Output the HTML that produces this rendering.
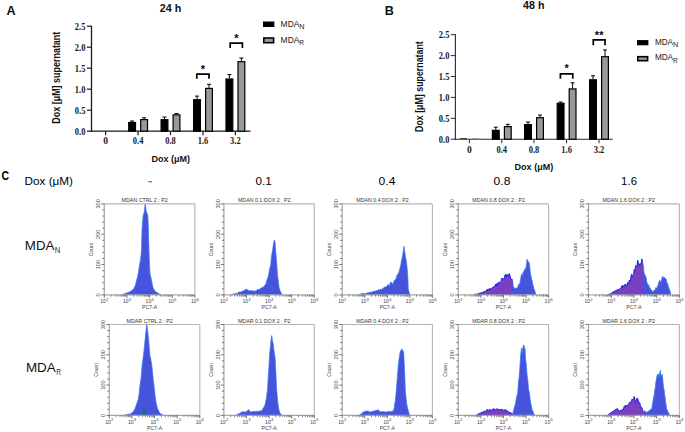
<!DOCTYPE html>
<html><head><meta charset="utf-8"><style>
html,body{margin:0;padding:0;background:#fff;}
svg{display:block;}
text{font-family:"Liberation Sans",sans-serif;}
</style></head><body>
<svg width="685" height="432" viewBox="0 0 685 432">
<rect width="685" height="432" fill="#fff"/>
<line x1="91.5" y1="25.7" x2="91.5" y2="131.7" stroke="#1a1a1a" stroke-width="1.3"/>
<line x1="90.9" y1="131.2" x2="250.5" y2="131.2" stroke="#1a1a1a" stroke-width="1.3"/>
<line x1="86.9" y1="131.2" x2="91.5" y2="131.2" stroke="#1a1a1a" stroke-width="1.2"/>
<text x="85.4" y="134.7" font-size="9.4" font-weight="bold" fill="#1a1a1a" text-anchor="end" textLength="10.6" lengthAdjust="spacingAndGlyphs" style="font-family:'Liberation Serif',serif">0.0</text>
<line x1="86.9" y1="110.2" x2="91.5" y2="110.2" stroke="#1a1a1a" stroke-width="1.2"/>
<text x="85.4" y="113.7" font-size="9.4" font-weight="bold" fill="#1a1a1a" text-anchor="end" textLength="10.6" lengthAdjust="spacingAndGlyphs" style="font-family:'Liberation Serif',serif">0.5</text>
<line x1="86.9" y1="89.2" x2="91.5" y2="89.2" stroke="#1a1a1a" stroke-width="1.2"/>
<text x="85.4" y="92.7" font-size="9.4" font-weight="bold" fill="#1a1a1a" text-anchor="end" textLength="10.6" lengthAdjust="spacingAndGlyphs" style="font-family:'Liberation Serif',serif">1.0</text>
<line x1="86.9" y1="68.2" x2="91.5" y2="68.2" stroke="#1a1a1a" stroke-width="1.2"/>
<text x="85.4" y="71.7" font-size="9.4" font-weight="bold" fill="#1a1a1a" text-anchor="end" textLength="10.6" lengthAdjust="spacingAndGlyphs" style="font-family:'Liberation Serif',serif">1.5</text>
<line x1="86.9" y1="47.2" x2="91.5" y2="47.2" stroke="#1a1a1a" stroke-width="1.2"/>
<text x="85.4" y="50.7" font-size="9.4" font-weight="bold" fill="#1a1a1a" text-anchor="end" textLength="10.6" lengthAdjust="spacingAndGlyphs" style="font-family:'Liberation Serif',serif">2.0</text>
<line x1="86.9" y1="26.2" x2="91.5" y2="26.2" stroke="#1a1a1a" stroke-width="1.2"/>
<text x="85.4" y="29.7" font-size="9.4" font-weight="bold" fill="#1a1a1a" text-anchor="end" textLength="10.6" lengthAdjust="spacingAndGlyphs" style="font-family:'Liberation Serif',serif">2.5</text>
<line x1="105.6" y1="131.2" x2="105.6" y2="135.2" stroke="#1a1a1a" stroke-width="1.2"/>
<text x="105.6" y="144.4" font-size="9.4" font-weight="bold" fill="#1a1a1a" text-anchor="middle" textLength="4.8" lengthAdjust="spacingAndGlyphs" style="font-family:'Liberation Serif',serif">0</text>
<line x1="138.1" y1="131.2" x2="138.1" y2="135.2" stroke="#1a1a1a" stroke-width="1.2"/>
<text x="138.1" y="144.4" font-size="9.4" font-weight="bold" fill="#1a1a1a" text-anchor="middle" textLength="10.6" lengthAdjust="spacingAndGlyphs" style="font-family:'Liberation Serif',serif">0.4</text>
<line x1="170.5" y1="131.2" x2="170.5" y2="135.2" stroke="#1a1a1a" stroke-width="1.2"/>
<text x="170.5" y="144.4" font-size="9.4" font-weight="bold" fill="#1a1a1a" text-anchor="middle" textLength="10.6" lengthAdjust="spacingAndGlyphs" style="font-family:'Liberation Serif',serif">0.8</text>
<line x1="203" y1="131.2" x2="203" y2="135.2" stroke="#1a1a1a" stroke-width="1.2"/>
<text x="203" y="144.4" font-size="9.4" font-weight="bold" fill="#1a1a1a" text-anchor="middle" textLength="10.6" lengthAdjust="spacingAndGlyphs" style="font-family:'Liberation Serif',serif">1.6</text>
<line x1="235.4" y1="131.2" x2="235.4" y2="135.2" stroke="#1a1a1a" stroke-width="1.2"/>
<text x="235.4" y="144.4" font-size="9.4" font-weight="bold" fill="#1a1a1a" text-anchor="middle" textLength="10.6" lengthAdjust="spacingAndGlyphs" style="font-family:'Liberation Serif',serif">3.2</text>
<line x1="132.1" y1="121" x2="132.1" y2="121.9" stroke="#000" stroke-width="1"/>
<line x1="130.1" y1="121" x2="134.1" y2="121" stroke="#000" stroke-width="1"/>
<rect x="128.7" y="122.5" width="6.8" height="8.699999999999983" fill="#000" stroke="#000" stroke-width="1.2"/>
<line x1="144.1" y1="117.8" x2="144.1" y2="119" stroke="#000" stroke-width="1"/>
<line x1="142.1" y1="117.8" x2="146.1" y2="117.8" stroke="#000" stroke-width="1"/>
<rect x="140.7" y="119.6" width="6.8" height="11.599999999999989" fill="#999" stroke="#000" stroke-width="1.2"/>
<line x1="164.5" y1="117" x2="164.5" y2="119.1" stroke="#000" stroke-width="1"/>
<line x1="162.5" y1="117" x2="166.5" y2="117" stroke="#000" stroke-width="1"/>
<rect x="161.1" y="119.69999999999999" width="6.8" height="11.499999999999995" fill="#000" stroke="#000" stroke-width="1.2"/>
<line x1="176.5" y1="113.5" x2="176.5" y2="114.3" stroke="#000" stroke-width="1"/>
<line x1="174.5" y1="113.5" x2="178.5" y2="113.5" stroke="#000" stroke-width="1"/>
<rect x="173.1" y="114.89999999999999" width="6.8" height="16.29999999999999" fill="#999" stroke="#000" stroke-width="1.2"/>
<line x1="197" y1="96.1" x2="197" y2="99.1" stroke="#000" stroke-width="1"/>
<line x1="195" y1="96.1" x2="199" y2="96.1" stroke="#000" stroke-width="1"/>
<rect x="193.6" y="99.69999999999999" width="6.8" height="31.499999999999993" fill="#000" stroke="#000" stroke-width="1.2"/>
<line x1="209" y1="84.3" x2="209" y2="87.8" stroke="#000" stroke-width="1"/>
<line x1="207" y1="84.3" x2="211" y2="84.3" stroke="#000" stroke-width="1"/>
<rect x="205.6" y="88.39999999999999" width="6.8" height="42.79999999999999" fill="#999" stroke="#000" stroke-width="1.2"/>
<line x1="229.4" y1="74.6" x2="229.4" y2="78.4" stroke="#000" stroke-width="1"/>
<line x1="227.4" y1="74.6" x2="231.4" y2="74.6" stroke="#000" stroke-width="1"/>
<rect x="226.0" y="79.0" width="6.8" height="52.19999999999998" fill="#000" stroke="#000" stroke-width="1.2"/>
<line x1="241.4" y1="58" x2="241.4" y2="61.1" stroke="#000" stroke-width="1"/>
<line x1="239.4" y1="58" x2="243.4" y2="58" stroke="#000" stroke-width="1"/>
<rect x="238.0" y="61.7" width="6.8" height="69.5" fill="#999" stroke="#000" stroke-width="1.2"/>
<path d="M196.8 78.8 V74.2 H209.0 V78.8" fill="none" stroke="#000" stroke-width="1.7"/>
<text x="202.9" y="72.6" font-size="11" font-weight="bold" fill="#000" text-anchor="middle" >*</text>
<path d="M230.2 48.0 V43.2 H242.4 V48.0" fill="none" stroke="#000" stroke-width="1.7"/>
<text x="236.3" y="41.8" font-size="11" font-weight="bold" fill="#000" text-anchor="middle" >*</text>
<text x="159.8" y="11.8" font-size="10.6" font-weight="bold" fill="#111" text-anchor="start" textLength="21.5" lengthAdjust="spacingAndGlyphs" >24 h</text>
<text x="6.6" y="14.8" font-size="12.6" font-weight="bold" fill="#111" text-anchor="start" >A</text>
<text x="151.4" y="161.6" font-size="8.6" font-weight="bold" fill="#111" text-anchor="start" textLength="38.5" lengthAdjust="spacingAndGlyphs" >Dox (μM)</text>
<text transform="translate(59.5,77.7) rotate(-90)" x="0" y="0" font-size="10.3" font-weight="bold" fill="#111" text-anchor="middle" textLength="92.0" lengthAdjust="spacingAndGlyphs">Dox [μM] supernatant</text>
<rect x="263.6" y="22.1" width="10.2" height="4.3" fill="#000" stroke="#000" stroke-width="1.2"/>
<rect x="263.8" y="38.0" width="9.8" height="4.699999999999999" fill="#999" stroke="#000" stroke-width="1.6"/>
<text x="280.6" y="26.7" font-size="8.2" font-weight="normal" fill="#222" text-anchor="start" textLength="18.8" lengthAdjust="spacingAndGlyphs" >MDA</text>
<text x="299.3" y="28.8" font-size="7.0" font-weight="normal" fill="#222" text-anchor="start" textLength="5.2" lengthAdjust="spacingAndGlyphs" >N</text>
<text x="280.6" y="43" font-size="8.2" font-weight="normal" fill="#222" text-anchor="start" textLength="18.8" lengthAdjust="spacingAndGlyphs" >MDA</text>
<text x="299.3" y="45.3" font-size="7.0" font-weight="normal" fill="#222" text-anchor="start" textLength="4.8" lengthAdjust="spacingAndGlyphs" >R</text>
<line x1="455.4" y1="34.2" x2="455.4" y2="139.7" stroke="#2a2a2a" stroke-width="1.1"/>
<line x1="454.8" y1="139.2" x2="612.8" y2="139.2" stroke="#2a2a2a" stroke-width="1.1"/>
<line x1="450.8" y1="139.2" x2="455.4" y2="139.2" stroke="#2a2a2a" stroke-width="1.01"/>
<text x="449.4" y="142.5" font-size="9.4" font-weight="bold" fill="#1a1a1a" text-anchor="end" textLength="10.6" lengthAdjust="spacingAndGlyphs" style="font-family:'Liberation Serif',serif">0.0</text>
<line x1="450.8" y1="118.3" x2="455.4" y2="118.3" stroke="#2a2a2a" stroke-width="1.01"/>
<text x="449.4" y="121.6" font-size="9.4" font-weight="bold" fill="#1a1a1a" text-anchor="end" textLength="10.6" lengthAdjust="spacingAndGlyphs" style="font-family:'Liberation Serif',serif">0.5</text>
<line x1="450.8" y1="97.4" x2="455.4" y2="97.4" stroke="#2a2a2a" stroke-width="1.01"/>
<text x="449.4" y="100.7" font-size="9.4" font-weight="bold" fill="#1a1a1a" text-anchor="end" textLength="10.6" lengthAdjust="spacingAndGlyphs" style="font-family:'Liberation Serif',serif">1.0</text>
<line x1="450.8" y1="76.5" x2="455.4" y2="76.5" stroke="#2a2a2a" stroke-width="1.01"/>
<text x="449.4" y="79.8" font-size="9.4" font-weight="bold" fill="#1a1a1a" text-anchor="end" textLength="10.6" lengthAdjust="spacingAndGlyphs" style="font-family:'Liberation Serif',serif">1.5</text>
<line x1="450.8" y1="55.6" x2="455.4" y2="55.6" stroke="#2a2a2a" stroke-width="1.01"/>
<text x="449.4" y="58.9" font-size="9.4" font-weight="bold" fill="#1a1a1a" text-anchor="end" textLength="10.6" lengthAdjust="spacingAndGlyphs" style="font-family:'Liberation Serif',serif">2.0</text>
<line x1="450.8" y1="34.7" x2="455.4" y2="34.7" stroke="#2a2a2a" stroke-width="1.01"/>
<text x="449.4" y="38" font-size="9.4" font-weight="bold" fill="#1a1a1a" text-anchor="end" textLength="10.6" lengthAdjust="spacingAndGlyphs" style="font-family:'Liberation Serif',serif">2.5</text>
<line x1="469.4" y1="139.2" x2="469.4" y2="143.2" stroke="#2a2a2a" stroke-width="1.01"/>
<text x="469.4" y="152.5" font-size="9.4" font-weight="bold" fill="#1a1a1a" text-anchor="middle" textLength="4.8" lengthAdjust="spacingAndGlyphs" style="font-family:'Liberation Serif',serif">0</text>
<line x1="501.8" y1="139.2" x2="501.8" y2="143.2" stroke="#2a2a2a" stroke-width="1.01"/>
<text x="501.8" y="152.5" font-size="9.4" font-weight="bold" fill="#1a1a1a" text-anchor="middle" textLength="10.6" lengthAdjust="spacingAndGlyphs" style="font-family:'Liberation Serif',serif">0.4</text>
<line x1="534" y1="139.2" x2="534" y2="143.2" stroke="#2a2a2a" stroke-width="1.01"/>
<text x="534" y="152.5" font-size="9.4" font-weight="bold" fill="#1a1a1a" text-anchor="middle" textLength="10.6" lengthAdjust="spacingAndGlyphs" style="font-family:'Liberation Serif',serif">0.8</text>
<line x1="566.6" y1="139.2" x2="566.6" y2="143.2" stroke="#2a2a2a" stroke-width="1.01"/>
<text x="566.6" y="152.5" font-size="9.4" font-weight="bold" fill="#1a1a1a" text-anchor="middle" textLength="10.6" lengthAdjust="spacingAndGlyphs" style="font-family:'Liberation Serif',serif">1.6</text>
<line x1="599" y1="139.2" x2="599" y2="143.2" stroke="#2a2a2a" stroke-width="1.01"/>
<text x="599" y="152.5" font-size="9.4" font-weight="bold" fill="#1a1a1a" text-anchor="middle" textLength="10.6" lengthAdjust="spacingAndGlyphs" style="font-family:'Liberation Serif',serif">3.2</text>
<rect x="459.9" y="138.0" width="7" height="1.2" fill="#444"/>
<rect x="471.9" y="138.0" width="7" height="1.2" fill="#999"/>
<line x1="495.8" y1="127.2" x2="495.8" y2="129.7" stroke="#000" stroke-width="1"/>
<line x1="493.8" y1="127.2" x2="497.8" y2="127.2" stroke="#000" stroke-width="1"/>
<rect x="492.40000000000003" y="130.29999999999998" width="6.8" height="8.9" fill="#000" stroke="#000" stroke-width="1.2"/>
<line x1="507.8" y1="124.3" x2="507.8" y2="126" stroke="#000" stroke-width="1"/>
<line x1="505.8" y1="124.3" x2="509.8" y2="124.3" stroke="#000" stroke-width="1"/>
<rect x="504.40000000000003" y="126.6" width="6.8" height="12.599999999999989" fill="#999" stroke="#000" stroke-width="1.2"/>
<line x1="528" y1="122" x2="528" y2="124" stroke="#000" stroke-width="1"/>
<line x1="526" y1="122" x2="530" y2="122" stroke="#000" stroke-width="1"/>
<rect x="524.6" y="124.6" width="6.8" height="14.599999999999989" fill="#000" stroke="#000" stroke-width="1.2"/>
<line x1="540" y1="115.1" x2="540" y2="117.1" stroke="#000" stroke-width="1"/>
<line x1="538" y1="115.1" x2="542" y2="115.1" stroke="#000" stroke-width="1"/>
<rect x="536.6" y="117.69999999999999" width="6.8" height="21.499999999999993" fill="#999" stroke="#000" stroke-width="1.2"/>
<line x1="560.6" y1="102" x2="560.6" y2="102.7" stroke="#000" stroke-width="1"/>
<line x1="558.6" y1="102" x2="562.6" y2="102" stroke="#000" stroke-width="1"/>
<rect x="557.2" y="103.3" width="6.8" height="35.899999999999984" fill="#000" stroke="#000" stroke-width="1.2"/>
<line x1="572.6" y1="82.8" x2="572.6" y2="88.3" stroke="#000" stroke-width="1"/>
<line x1="570.6" y1="82.8" x2="574.6" y2="82.8" stroke="#000" stroke-width="1"/>
<rect x="569.2" y="88.89999999999999" width="6.8" height="50.29999999999999" fill="#999" stroke="#000" stroke-width="1.2"/>
<line x1="593" y1="75.8" x2="593" y2="79.2" stroke="#000" stroke-width="1"/>
<line x1="591" y1="75.8" x2="595" y2="75.8" stroke="#000" stroke-width="1"/>
<rect x="589.6" y="79.8" width="6.8" height="59.399999999999984" fill="#000" stroke="#000" stroke-width="1.2"/>
<line x1="605" y1="50" x2="605" y2="56.1" stroke="#000" stroke-width="1"/>
<line x1="603" y1="50" x2="607" y2="50" stroke="#000" stroke-width="1"/>
<rect x="601.6" y="56.7" width="6.8" height="82.5" fill="#999" stroke="#000" stroke-width="1.2"/>
<path d="M560.4 78.8 V73.9 H572.8 V78.8" fill="none" stroke="#000" stroke-width="1.7"/>
<text x="566.6" y="72.4" font-size="11" font-weight="bold" fill="#000" text-anchor="middle" >*</text>
<path d="M593.3 45.2 V39.8 H605.0 V45.2" fill="none" stroke="#000" stroke-width="1.7"/>
<text x="599.15" y="39.3" font-size="11" font-weight="bold" fill="#000" text-anchor="middle" >**</text>
<text x="523.1" y="9.2" font-size="10.6" font-weight="bold" fill="#111" text-anchor="start" textLength="21.5" lengthAdjust="spacingAndGlyphs" >48 h</text>
<text x="384.7" y="14.6" font-size="12.6" font-weight="bold" fill="#111" text-anchor="start" >B</text>
<text x="514.6" y="169.5" font-size="8.6" font-weight="bold" fill="#111" text-anchor="start" textLength="38.6" lengthAdjust="spacingAndGlyphs" >Dox (μM)</text>
<text transform="translate(423.1,86.6) rotate(-90)" x="0" y="0" font-size="10.3" font-weight="bold" fill="#111" text-anchor="middle" textLength="90.8" lengthAdjust="spacingAndGlyphs">Dox [μM] supernatant</text>
<rect x="637.6" y="40.7" width="10.2" height="4.0" fill="#000" stroke="#000" stroke-width="1.2"/>
<rect x="637.8" y="56.699999999999996" width="9.8" height="3.9999999999999996" fill="#999" stroke="#000" stroke-width="1.6"/>
<text x="654.9" y="44.8" font-size="8.2" font-weight="normal" fill="#222" text-anchor="start" textLength="18.2" lengthAdjust="spacingAndGlyphs" >MDA</text>
<text x="673" y="46.9" font-size="7.0" font-weight="normal" fill="#222" text-anchor="start" textLength="5.2" lengthAdjust="spacingAndGlyphs" >N</text>
<text x="654.9" y="60.4" font-size="8.2" font-weight="normal" fill="#222" text-anchor="start" textLength="18.2" lengthAdjust="spacingAndGlyphs" >MDA</text>
<text x="673" y="62.7" font-size="7.0" font-weight="normal" fill="#222" text-anchor="start" textLength="4.8" lengthAdjust="spacingAndGlyphs" >R</text>
<text x="1.6" y="180.1" font-size="13.6" font-weight="bold" fill="#000" text-anchor="start" textLength="7.6" lengthAdjust="spacingAndGlyphs" >C</text>
<text x="24.5" y="184.9" font-size="11.6" font-weight="normal" fill="#000" text-anchor="start" textLength="48.5" lengthAdjust="spacingAndGlyphs" >Dox (μM)</text>
<rect x="148.4" y="181.0" width="3.5" height="1.4" fill="#777"/>
<text x="255.4" y="184.8" font-size="11.8" font-weight="normal" fill="#000" text-anchor="start" textLength="16.3" lengthAdjust="spacingAndGlyphs" >0.1</text>
<text x="378.6" y="184.8" font-size="11.8" font-weight="normal" fill="#000" text-anchor="start" textLength="16.8" lengthAdjust="spacingAndGlyphs" >0.4</text>
<text x="493.6" y="184.8" font-size="11.8" font-weight="normal" fill="#000" text-anchor="start" textLength="16.8" lengthAdjust="spacingAndGlyphs" >0.8</text>
<text x="621.1" y="184.8" font-size="11.8" font-weight="normal" fill="#000" text-anchor="start" textLength="15.9" lengthAdjust="spacingAndGlyphs" >1.6</text>
<text x="24.8" y="250.1" font-size="12.8" font-weight="normal" fill="#111" text-anchor="start" textLength="29.6" lengthAdjust="spacingAndGlyphs" >MDA</text>
<text x="54.8" y="253.2" font-size="8.4" font-weight="normal" fill="#333" text-anchor="start" textLength="5.6" lengthAdjust="spacingAndGlyphs" >N</text>
<text x="25.9" y="372.1" font-size="12.8" font-weight="normal" fill="#111" text-anchor="start" textLength="29.8" lengthAdjust="spacingAndGlyphs" >MDA</text>
<text x="56.2" y="375.2" font-size="8.4" font-weight="normal" fill="#333" text-anchor="start" textLength="4.8" lengthAdjust="spacingAndGlyphs" >R</text>
<clipPath id="c104_203"><rect x="104.3" y="201.9" width="90.60000000000001" height="92.99999999999997"/></clipPath>
<path d="M122.0 294.9 L122.0 294.5 L122.2 294.5 L122.6 294.4 L123.1 294.1 L123.6 294.1 L124.3 293.7 L124.9 293.6 L125.6 293.5 L126.3 293.0 L127.0 293.1 L127.6 292.6 L128.1 292.6 L128.6 292.5 L128.9 292.1 L129.3 291.7 L129.8 291.9 L130.4 291.5 L131.0 290.9 L131.7 290.2 L132.3 290.1 L132.8 289.9 L133.2 289.1 L133.5 289.6 L134.1 287.8 L134.7 286.8 L135.3 285.2 L135.8 283.9 L136.2 282.2 L136.8 279.3 L137.4 277.6 L137.9 274.7 L138.3 272.9 L138.8 269.9 L139.5 265.0 L140.0 262.5 L140.5 259.3 L141.1 254.5 L141.5 249.6 L142.0 229.1 L142.5 222.6 L143.1 215.9 L143.7 213.6 L144.3 211.7 L145.2 203.0 L145.7 206.4 L146.2 211.8 L146.7 212.2 L147.3 214.3 L147.8 215.0 L148.4 228.2 L149.0 250.5 L149.3 260.6 L150.0 273.7 L150.4 275.3 L151.0 277.6 L151.6 281.1 L152.0 282.4 L152.6 286.0 L153.2 288.0 L153.6 288.8 L154.2 289.9 L154.9 290.7 L155.5 291.7 L155.8 291.7 L156.3 292.1 L156.9 292.5 L157.5 293.0 L158.2 293.2 L158.8 293.6 L159.3 294.1 L159.8 294.3 L160.0 294.5 L160.0 294.9 Z" fill="#4753dc" stroke="#2f7cf5" stroke-width="0.7" clip-path="url(#c104_203)"/>
<line x1="104.3" y1="203.9" x2="194.9" y2="203.9" stroke="#b4b4b4" stroke-width="1.1"/>
<line x1="194.9" y1="203.9" x2="194.9" y2="294.9" stroke="#b4b4b4" stroke-width="1.1"/>
<line x1="104.3" y1="203.4" x2="104.3" y2="295.4" stroke="#a8a8a8" stroke-width="1.2"/>
<line x1="104.3" y1="294.9" x2="194.9" y2="294.9" stroke="#a8a8a8" stroke-width="1.2"/>
<line x1="101.3" y1="294.9" x2="104.3" y2="294.9" stroke="#555" stroke-width="0.8"/>
<line x1="102.3" y1="288.83" x2="104.3" y2="288.83" stroke="#555" stroke-width="0.8"/>
<line x1="102.3" y1="282.77" x2="104.3" y2="282.77" stroke="#555" stroke-width="0.8"/>
<line x1="102.3" y1="276.7" x2="104.3" y2="276.7" stroke="#555" stroke-width="0.8"/>
<line x1="102.3" y1="270.63" x2="104.3" y2="270.63" stroke="#555" stroke-width="0.8"/>
<line x1="101.3" y1="264.57" x2="104.3" y2="264.57" stroke="#555" stroke-width="0.8"/>
<line x1="102.3" y1="258.5" x2="104.3" y2="258.5" stroke="#555" stroke-width="0.8"/>
<line x1="102.3" y1="252.43" x2="104.3" y2="252.43" stroke="#555" stroke-width="0.8"/>
<line x1="102.3" y1="246.37" x2="104.3" y2="246.37" stroke="#555" stroke-width="0.8"/>
<line x1="102.3" y1="240.3" x2="104.3" y2="240.3" stroke="#555" stroke-width="0.8"/>
<line x1="101.3" y1="234.23" x2="104.3" y2="234.23" stroke="#555" stroke-width="0.8"/>
<line x1="102.3" y1="228.17" x2="104.3" y2="228.17" stroke="#555" stroke-width="0.8"/>
<line x1="102.3" y1="222.1" x2="104.3" y2="222.1" stroke="#555" stroke-width="0.8"/>
<line x1="102.3" y1="216.03" x2="104.3" y2="216.03" stroke="#555" stroke-width="0.8"/>
<line x1="102.3" y1="209.97" x2="104.3" y2="209.97" stroke="#555" stroke-width="0.8"/>
<line x1="101.3" y1="203.9" x2="104.3" y2="203.9" stroke="#555" stroke-width="0.8"/>
<text transform="translate(100.10,294.90) rotate(-90)" font-size="5.6" fill="#444" text-anchor="middle" font-family="Liberation Sans">0</text>
<text transform="translate(100.10,264.57) rotate(-90)" font-size="5.6" fill="#444" text-anchor="middle" font-family="Liberation Sans">100</text>
<text transform="translate(100.10,234.23) rotate(-90)" font-size="5.6" fill="#444" text-anchor="middle" font-family="Liberation Sans">200</text>
<text transform="translate(100.10,203.90) rotate(-90)" font-size="5.6" fill="#444" text-anchor="middle" font-family="Liberation Sans">300</text>
<text transform="translate(92.90,249.40) rotate(-90)" font-size="5.6" fill="#444" text-anchor="middle" textLength="13.7" lengthAdjust="spacingAndGlyphs">Count</text>
<line x1="111.12" y1="294.9" x2="111.12" y2="296.7" stroke="#555" stroke-width="0.7"/>
<line x1="115.11" y1="294.9" x2="115.11" y2="296.7" stroke="#555" stroke-width="0.7"/>
<line x1="117.94" y1="294.9" x2="117.94" y2="296.7" stroke="#555" stroke-width="0.7"/>
<line x1="120.13" y1="294.9" x2="120.13" y2="296.7" stroke="#555" stroke-width="0.7"/>
<line x1="121.93" y1="294.9" x2="121.93" y2="296.7" stroke="#555" stroke-width="0.7"/>
<line x1="123.44" y1="294.9" x2="123.44" y2="296.7" stroke="#555" stroke-width="0.7"/>
<line x1="124.75" y1="294.9" x2="124.75" y2="296.7" stroke="#555" stroke-width="0.7"/>
<line x1="125.91" y1="294.9" x2="125.91" y2="296.7" stroke="#555" stroke-width="0.7"/>
<line x1="133.77" y1="294.9" x2="133.77" y2="296.7" stroke="#555" stroke-width="0.7"/>
<line x1="137.76" y1="294.9" x2="137.76" y2="296.7" stroke="#555" stroke-width="0.7"/>
<line x1="140.59" y1="294.9" x2="140.59" y2="296.7" stroke="#555" stroke-width="0.7"/>
<line x1="142.78" y1="294.9" x2="142.78" y2="296.7" stroke="#555" stroke-width="0.7"/>
<line x1="144.58" y1="294.9" x2="144.58" y2="296.7" stroke="#555" stroke-width="0.7"/>
<line x1="146.09" y1="294.9" x2="146.09" y2="296.7" stroke="#555" stroke-width="0.7"/>
<line x1="147.4" y1="294.9" x2="147.4" y2="296.7" stroke="#555" stroke-width="0.7"/>
<line x1="148.56" y1="294.9" x2="148.56" y2="296.7" stroke="#555" stroke-width="0.7"/>
<line x1="156.42" y1="294.9" x2="156.42" y2="296.7" stroke="#555" stroke-width="0.7"/>
<line x1="160.41" y1="294.9" x2="160.41" y2="296.7" stroke="#555" stroke-width="0.7"/>
<line x1="163.24" y1="294.9" x2="163.24" y2="296.7" stroke="#555" stroke-width="0.7"/>
<line x1="165.43" y1="294.9" x2="165.43" y2="296.7" stroke="#555" stroke-width="0.7"/>
<line x1="167.23" y1="294.9" x2="167.23" y2="296.7" stroke="#555" stroke-width="0.7"/>
<line x1="168.74" y1="294.9" x2="168.74" y2="296.7" stroke="#555" stroke-width="0.7"/>
<line x1="170.05" y1="294.9" x2="170.05" y2="296.7" stroke="#555" stroke-width="0.7"/>
<line x1="171.21" y1="294.9" x2="171.21" y2="296.7" stroke="#555" stroke-width="0.7"/>
<line x1="179.07" y1="294.9" x2="179.07" y2="296.7" stroke="#555" stroke-width="0.7"/>
<line x1="183.06" y1="294.9" x2="183.06" y2="296.7" stroke="#555" stroke-width="0.7"/>
<line x1="185.89" y1="294.9" x2="185.89" y2="296.7" stroke="#555" stroke-width="0.7"/>
<line x1="188.08" y1="294.9" x2="188.08" y2="296.7" stroke="#555" stroke-width="0.7"/>
<line x1="189.88" y1="294.9" x2="189.88" y2="296.7" stroke="#555" stroke-width="0.7"/>
<line x1="191.39" y1="294.9" x2="191.39" y2="296.7" stroke="#555" stroke-width="0.7"/>
<line x1="192.7" y1="294.9" x2="192.7" y2="296.7" stroke="#555" stroke-width="0.7"/>
<line x1="193.86" y1="294.9" x2="193.86" y2="296.7" stroke="#555" stroke-width="0.7"/>
<line x1="104.3" y1="294.9" x2="104.3" y2="297.9" stroke="#555" stroke-width="0.8"/>
<text x="100.3" y="303.2" font-size="5.8" font-weight="normal" fill="#444" text-anchor="start" textLength="5.6" lengthAdjust="spacingAndGlyphs" >10</text>
<text x="106.1" y="300.5" font-size="4.2" font-weight="normal" fill="#444" text-anchor="start" >2</text>
<line x1="126.95" y1="294.9" x2="126.95" y2="297.9" stroke="#555" stroke-width="0.8"/>
<text x="122.95" y="303.2" font-size="5.8" font-weight="normal" fill="#444" text-anchor="start" textLength="5.6" lengthAdjust="spacingAndGlyphs" >10</text>
<text x="128.75" y="300.5" font-size="4.2" font-weight="normal" fill="#444" text-anchor="start" >3</text>
<line x1="149.6" y1="294.9" x2="149.6" y2="297.9" stroke="#555" stroke-width="0.8"/>
<text x="145.6" y="303.2" font-size="5.8" font-weight="normal" fill="#444" text-anchor="start" textLength="5.6" lengthAdjust="spacingAndGlyphs" >10</text>
<text x="151.4" y="300.5" font-size="4.2" font-weight="normal" fill="#444" text-anchor="start" >4</text>
<line x1="172.25" y1="294.9" x2="172.25" y2="297.9" stroke="#555" stroke-width="0.8"/>
<text x="168.25" y="303.2" font-size="5.8" font-weight="normal" fill="#444" text-anchor="start" textLength="5.6" lengthAdjust="spacingAndGlyphs" >10</text>
<text x="174.05" y="300.5" font-size="4.2" font-weight="normal" fill="#444" text-anchor="start" >5</text>
<line x1="194.9" y1="294.9" x2="194.9" y2="297.9" stroke="#555" stroke-width="0.8"/>
<text x="190.9" y="303.2" font-size="5.8" font-weight="normal" fill="#444" text-anchor="start" textLength="5.6" lengthAdjust="spacingAndGlyphs" >10</text>
<text x="196.7" y="300.5" font-size="4.2" font-weight="normal" fill="#444" text-anchor="start" >6</text>
<text x="149.6" y="309.4" font-size="5.6" font-weight="normal" fill="#444" text-anchor="middle" textLength="15.3" lengthAdjust="spacingAndGlyphs" >PC7-A</text>
<text x="144.6" y="202.4" font-size="5.6" font-weight="normal" fill="#333" text-anchor="middle" textLength="46.2" lengthAdjust="spacingAndGlyphs" >MDAN CTRL 2 : P2</text>
<clipPath id="c109_324"><rect x="109.3" y="322.5" width="90.50000000000001" height="92.89999999999998"/></clipPath>
<path d="M125.0 415.4 L125.0 414.9 L125.3 414.9 L125.8 414.7 L126.4 414.6 L127.0 414.4 L127.6 414.3 L128.0 414.4 L128.4 414.3 L128.9 414.1 L129.5 414.2 L130.1 413.8 L130.6 413.8 L131.0 413.7 L131.4 413.4 L131.9 412.6 L132.5 412.3 L133.1 411.7 L133.7 411.0 L134.0 410.3 L134.5 409.9 L135.1 408.2 L135.7 406.6 L136.2 405.1 L136.7 403.7 L137.4 401.5 L138.1 399.9 L138.5 398.1 L139.1 393.8 L139.6 388.4 L140.3 382.8 L141.0 378.6 L141.5 372.6 L142.0 366.6 L142.4 363.3 L143.0 358.5 L143.5 354.8 L143.9 351.2 L144.5 345.8 L145.0 340.2 L145.5 335.2 L146.3 328.1 L146.8 323.7 L147.3 327.7 L148.1 334.8 L148.6 339.7 L149.3 347.2 L150.0 356.0 L150.5 357.5 L151.3 362.1 L151.8 365.2 L152.5 371.4 L153.1 378.2 L153.8 383.8 L154.4 389.6 L154.9 393.4 L155.4 398.5 L156.1 402.4 L156.8 405.8 L157.2 407.3 L157.8 408.9 L158.3 410.3 L158.7 411.1 L159.3 412.1 L159.9 413.1 L160.3 413.6 L160.7 414.0 L161.4 414.0 L162.1 414.4 L162.7 414.8 L163.0 414.9 L163.0 415.4 Z" fill="#4753dc" stroke="#2f7cf5" stroke-width="0.7" clip-path="url(#c109_324)"/>
<path d="M141.6 415.4 L141.6 415.0 L142.0 413.2 L142.6 410.0 L143.3 406.9 L143.8 405.6 L144.3 406.9 L145.1 410.0 L145.8 413.2 L146.2 415.0 L146.2 415.4 Z" fill="#1f6a86" stroke="none"/>
<line x1="109.3" y1="324.5" x2="199.8" y2="324.5" stroke="#b4b4b4" stroke-width="1.1"/>
<line x1="199.8" y1="324.5" x2="199.8" y2="415.4" stroke="#b4b4b4" stroke-width="1.1"/>
<line x1="109.3" y1="324" x2="109.3" y2="415.9" stroke="#a8a8a8" stroke-width="1.2"/>
<line x1="109.3" y1="415.4" x2="199.8" y2="415.4" stroke="#a8a8a8" stroke-width="1.2"/>
<line x1="106.3" y1="415.4" x2="109.3" y2="415.4" stroke="#555" stroke-width="0.8"/>
<line x1="107.3" y1="409.34" x2="109.3" y2="409.34" stroke="#555" stroke-width="0.8"/>
<line x1="107.3" y1="403.28" x2="109.3" y2="403.28" stroke="#555" stroke-width="0.8"/>
<line x1="107.3" y1="397.22" x2="109.3" y2="397.22" stroke="#555" stroke-width="0.8"/>
<line x1="107.3" y1="391.16" x2="109.3" y2="391.16" stroke="#555" stroke-width="0.8"/>
<line x1="106.3" y1="385.1" x2="109.3" y2="385.1" stroke="#555" stroke-width="0.8"/>
<line x1="107.3" y1="379.04" x2="109.3" y2="379.04" stroke="#555" stroke-width="0.8"/>
<line x1="107.3" y1="372.98" x2="109.3" y2="372.98" stroke="#555" stroke-width="0.8"/>
<line x1="107.3" y1="366.92" x2="109.3" y2="366.92" stroke="#555" stroke-width="0.8"/>
<line x1="107.3" y1="360.86" x2="109.3" y2="360.86" stroke="#555" stroke-width="0.8"/>
<line x1="106.3" y1="354.8" x2="109.3" y2="354.8" stroke="#555" stroke-width="0.8"/>
<line x1="107.3" y1="348.74" x2="109.3" y2="348.74" stroke="#555" stroke-width="0.8"/>
<line x1="107.3" y1="342.68" x2="109.3" y2="342.68" stroke="#555" stroke-width="0.8"/>
<line x1="107.3" y1="336.62" x2="109.3" y2="336.62" stroke="#555" stroke-width="0.8"/>
<line x1="107.3" y1="330.56" x2="109.3" y2="330.56" stroke="#555" stroke-width="0.8"/>
<line x1="106.3" y1="324.5" x2="109.3" y2="324.5" stroke="#555" stroke-width="0.8"/>
<text transform="translate(105.10,415.40) rotate(-90)" font-size="5.6" fill="#444" text-anchor="middle" font-family="Liberation Sans">0</text>
<text transform="translate(105.10,385.10) rotate(-90)" font-size="5.6" fill="#444" text-anchor="middle" font-family="Liberation Sans">100</text>
<text transform="translate(105.10,354.80) rotate(-90)" font-size="5.6" fill="#444" text-anchor="middle" font-family="Liberation Sans">200</text>
<text transform="translate(105.10,324.50) rotate(-90)" font-size="5.6" fill="#444" text-anchor="middle" font-family="Liberation Sans">300</text>
<text transform="translate(97.90,369.95) rotate(-90)" font-size="5.6" fill="#444" text-anchor="middle" textLength="13.7" lengthAdjust="spacingAndGlyphs">Count</text>
<line x1="116.11" y1="415.4" x2="116.11" y2="417.2" stroke="#555" stroke-width="0.7"/>
<line x1="120.09" y1="415.4" x2="120.09" y2="417.2" stroke="#555" stroke-width="0.7"/>
<line x1="122.92" y1="415.4" x2="122.92" y2="417.2" stroke="#555" stroke-width="0.7"/>
<line x1="125.11" y1="415.4" x2="125.11" y2="417.2" stroke="#555" stroke-width="0.7"/>
<line x1="126.91" y1="415.4" x2="126.91" y2="417.2" stroke="#555" stroke-width="0.7"/>
<line x1="128.42" y1="415.4" x2="128.42" y2="417.2" stroke="#555" stroke-width="0.7"/>
<line x1="129.73" y1="415.4" x2="129.73" y2="417.2" stroke="#555" stroke-width="0.7"/>
<line x1="130.89" y1="415.4" x2="130.89" y2="417.2" stroke="#555" stroke-width="0.7"/>
<line x1="138.74" y1="415.4" x2="138.74" y2="417.2" stroke="#555" stroke-width="0.7"/>
<line x1="142.72" y1="415.4" x2="142.72" y2="417.2" stroke="#555" stroke-width="0.7"/>
<line x1="145.55" y1="415.4" x2="145.55" y2="417.2" stroke="#555" stroke-width="0.7"/>
<line x1="147.74" y1="415.4" x2="147.74" y2="417.2" stroke="#555" stroke-width="0.7"/>
<line x1="149.53" y1="415.4" x2="149.53" y2="417.2" stroke="#555" stroke-width="0.7"/>
<line x1="151.05" y1="415.4" x2="151.05" y2="417.2" stroke="#555" stroke-width="0.7"/>
<line x1="152.36" y1="415.4" x2="152.36" y2="417.2" stroke="#555" stroke-width="0.7"/>
<line x1="153.51" y1="415.4" x2="153.51" y2="417.2" stroke="#555" stroke-width="0.7"/>
<line x1="161.36" y1="415.4" x2="161.36" y2="417.2" stroke="#555" stroke-width="0.7"/>
<line x1="165.34" y1="415.4" x2="165.34" y2="417.2" stroke="#555" stroke-width="0.7"/>
<line x1="168.17" y1="415.4" x2="168.17" y2="417.2" stroke="#555" stroke-width="0.7"/>
<line x1="170.36" y1="415.4" x2="170.36" y2="417.2" stroke="#555" stroke-width="0.7"/>
<line x1="172.16" y1="415.4" x2="172.16" y2="417.2" stroke="#555" stroke-width="0.7"/>
<line x1="173.67" y1="415.4" x2="173.67" y2="417.2" stroke="#555" stroke-width="0.7"/>
<line x1="174.98" y1="415.4" x2="174.98" y2="417.2" stroke="#555" stroke-width="0.7"/>
<line x1="176.14" y1="415.4" x2="176.14" y2="417.2" stroke="#555" stroke-width="0.7"/>
<line x1="183.99" y1="415.4" x2="183.99" y2="417.2" stroke="#555" stroke-width="0.7"/>
<line x1="187.97" y1="415.4" x2="187.97" y2="417.2" stroke="#555" stroke-width="0.7"/>
<line x1="190.8" y1="415.4" x2="190.8" y2="417.2" stroke="#555" stroke-width="0.7"/>
<line x1="192.99" y1="415.4" x2="192.99" y2="417.2" stroke="#555" stroke-width="0.7"/>
<line x1="194.78" y1="415.4" x2="194.78" y2="417.2" stroke="#555" stroke-width="0.7"/>
<line x1="196.3" y1="415.4" x2="196.3" y2="417.2" stroke="#555" stroke-width="0.7"/>
<line x1="197.61" y1="415.4" x2="197.61" y2="417.2" stroke="#555" stroke-width="0.7"/>
<line x1="198.76" y1="415.4" x2="198.76" y2="417.2" stroke="#555" stroke-width="0.7"/>
<line x1="109.3" y1="415.4" x2="109.3" y2="418.4" stroke="#555" stroke-width="0.8"/>
<text x="105.3" y="423.7" font-size="5.8" font-weight="normal" fill="#444" text-anchor="start" textLength="5.6" lengthAdjust="spacingAndGlyphs" >10</text>
<text x="111.1" y="421" font-size="4.2" font-weight="normal" fill="#444" text-anchor="start" >2</text>
<line x1="131.93" y1="415.4" x2="131.93" y2="418.4" stroke="#555" stroke-width="0.8"/>
<text x="127.93" y="423.7" font-size="5.8" font-weight="normal" fill="#444" text-anchor="start" textLength="5.6" lengthAdjust="spacingAndGlyphs" >10</text>
<text x="133.73" y="421" font-size="4.2" font-weight="normal" fill="#444" text-anchor="start" >3</text>
<line x1="154.55" y1="415.4" x2="154.55" y2="418.4" stroke="#555" stroke-width="0.8"/>
<text x="150.55" y="423.7" font-size="5.8" font-weight="normal" fill="#444" text-anchor="start" textLength="5.6" lengthAdjust="spacingAndGlyphs" >10</text>
<text x="156.35" y="421" font-size="4.2" font-weight="normal" fill="#444" text-anchor="start" >4</text>
<line x1="177.18" y1="415.4" x2="177.18" y2="418.4" stroke="#555" stroke-width="0.8"/>
<text x="173.18" y="423.7" font-size="5.8" font-weight="normal" fill="#444" text-anchor="start" textLength="5.6" lengthAdjust="spacingAndGlyphs" >10</text>
<text x="178.98" y="421" font-size="4.2" font-weight="normal" fill="#444" text-anchor="start" >5</text>
<line x1="199.8" y1="415.4" x2="199.8" y2="418.4" stroke="#555" stroke-width="0.8"/>
<text x="195.8" y="423.7" font-size="5.8" font-weight="normal" fill="#444" text-anchor="start" textLength="5.6" lengthAdjust="spacingAndGlyphs" >10</text>
<text x="201.6" y="421" font-size="4.2" font-weight="normal" fill="#444" text-anchor="start" >6</text>
<text x="154.55" y="429.9" font-size="5.6" font-weight="normal" fill="#444" text-anchor="middle" textLength="15.3" lengthAdjust="spacingAndGlyphs" >PC7-A</text>
<text x="149.6" y="323" font-size="5.6" font-weight="normal" fill="#333" text-anchor="middle" textLength="46.2" lengthAdjust="spacingAndGlyphs" >MDAR CTRL 2 : P2</text>
<clipPath id="c223_203"><rect x="223.9" y="201.9" width="90.4" height="92.99999999999997"/></clipPath>
<path d="M231.0 294.9 L231.0 294.5 L231.2 294.5 L231.6 294.5 L232.1 294.4 L232.7 294.3 L233.3 294.2 L233.9 293.8 L234.6 294.0 L235.1 294.0 L235.6 293.3 L236.0 293.5 L236.3 293.6 L236.8 293.2 L237.3 293.4 L237.9 292.8 L238.5 292.3 L239.2 292.1 L239.8 292.0 L240.4 292.2 L240.9 291.9 L241.4 291.9 L241.7 291.3 L242.1 291.3 L242.5 290.9 L243.1 291.1 L243.7 291.0 L244.3 290.1 L244.9 289.7 L245.5 289.6 L246.1 289.4 L246.5 289.3 L246.9 289.3 L247.2 289.9 L247.6 289.7 L248.1 290.0 L248.7 290.5 L249.3 290.7 L249.9 290.6 L250.6 290.8 L251.2 290.6 L251.8 290.5 L252.3 291.1 L252.7 290.8 L253.0 290.7 L253.4 290.7 L253.9 291.2 L254.4 291.2 L255.1 291.0 L255.7 290.8 L256.4 290.6 L257.0 290.0 L257.5 289.5 L258.0 289.4 L258.3 289.6 L258.7 289.3 L259.2 288.9 L259.8 289.4 L260.5 288.5 L261.1 287.8 L261.7 287.7 L262.2 287.5 L262.5 287.6 L262.9 287.7 L263.5 286.5 L264.1 286.6 L264.7 285.3 L265.2 284.5 L265.6 284.8 L266.0 283.6 L266.6 280.8 L267.2 278.9 L267.8 278.0 L268.2 276.6 L268.7 274.5 L269.4 269.7 L270.1 266.8 L270.6 266.3 L271.2 259.5 L271.9 253.5 L272.3 251.8 L272.8 248.6 L273.5 243.4 L274.0 241.3 L274.4 240.3 L274.9 240.6 L275.6 249.1 L276.0 254.9 L276.8 264.3 L277.6 275.9 L278.1 279.5 L278.6 283.7 L279.1 287.4 L279.7 289.7 L280.2 290.8 L280.8 292.2 L281.2 292.9 L282.0 294.5 L282.0 294.9 Z" fill="#4753dc" stroke="#2f7cf5" stroke-width="0.7" clip-path="url(#c223_203)"/>
<line x1="223.9" y1="203.9" x2="314.3" y2="203.9" stroke="#b4b4b4" stroke-width="1.1"/>
<line x1="314.3" y1="203.9" x2="314.3" y2="294.9" stroke="#b4b4b4" stroke-width="1.1"/>
<line x1="223.9" y1="203.4" x2="223.9" y2="295.4" stroke="#a8a8a8" stroke-width="1.2"/>
<line x1="223.9" y1="294.9" x2="314.3" y2="294.9" stroke="#a8a8a8" stroke-width="1.2"/>
<line x1="220.9" y1="294.9" x2="223.9" y2="294.9" stroke="#555" stroke-width="0.8"/>
<line x1="221.9" y1="288.83" x2="223.9" y2="288.83" stroke="#555" stroke-width="0.8"/>
<line x1="221.9" y1="282.77" x2="223.9" y2="282.77" stroke="#555" stroke-width="0.8"/>
<line x1="221.9" y1="276.7" x2="223.9" y2="276.7" stroke="#555" stroke-width="0.8"/>
<line x1="221.9" y1="270.63" x2="223.9" y2="270.63" stroke="#555" stroke-width="0.8"/>
<line x1="220.9" y1="264.57" x2="223.9" y2="264.57" stroke="#555" stroke-width="0.8"/>
<line x1="221.9" y1="258.5" x2="223.9" y2="258.5" stroke="#555" stroke-width="0.8"/>
<line x1="221.9" y1="252.43" x2="223.9" y2="252.43" stroke="#555" stroke-width="0.8"/>
<line x1="221.9" y1="246.37" x2="223.9" y2="246.37" stroke="#555" stroke-width="0.8"/>
<line x1="221.9" y1="240.3" x2="223.9" y2="240.3" stroke="#555" stroke-width="0.8"/>
<line x1="220.9" y1="234.23" x2="223.9" y2="234.23" stroke="#555" stroke-width="0.8"/>
<line x1="221.9" y1="228.17" x2="223.9" y2="228.17" stroke="#555" stroke-width="0.8"/>
<line x1="221.9" y1="222.1" x2="223.9" y2="222.1" stroke="#555" stroke-width="0.8"/>
<line x1="221.9" y1="216.03" x2="223.9" y2="216.03" stroke="#555" stroke-width="0.8"/>
<line x1="221.9" y1="209.97" x2="223.9" y2="209.97" stroke="#555" stroke-width="0.8"/>
<line x1="220.9" y1="203.9" x2="223.9" y2="203.9" stroke="#555" stroke-width="0.8"/>
<text transform="translate(219.70,294.90) rotate(-90)" font-size="5.6" fill="#444" text-anchor="middle" font-family="Liberation Sans">0</text>
<text transform="translate(219.70,264.57) rotate(-90)" font-size="5.6" fill="#444" text-anchor="middle" font-family="Liberation Sans">100</text>
<text transform="translate(219.70,234.23) rotate(-90)" font-size="5.6" fill="#444" text-anchor="middle" font-family="Liberation Sans">200</text>
<text transform="translate(219.70,203.90) rotate(-90)" font-size="5.6" fill="#444" text-anchor="middle" font-family="Liberation Sans">300</text>
<text transform="translate(212.50,249.40) rotate(-90)" font-size="5.6" fill="#444" text-anchor="middle" textLength="13.7" lengthAdjust="spacingAndGlyphs">Count</text>
<line x1="230.7" y1="294.9" x2="230.7" y2="296.7" stroke="#555" stroke-width="0.7"/>
<line x1="234.68" y1="294.9" x2="234.68" y2="296.7" stroke="#555" stroke-width="0.7"/>
<line x1="237.51" y1="294.9" x2="237.51" y2="296.7" stroke="#555" stroke-width="0.7"/>
<line x1="239.7" y1="294.9" x2="239.7" y2="296.7" stroke="#555" stroke-width="0.7"/>
<line x1="241.49" y1="294.9" x2="241.49" y2="296.7" stroke="#555" stroke-width="0.7"/>
<line x1="243" y1="294.9" x2="243" y2="296.7" stroke="#555" stroke-width="0.7"/>
<line x1="244.31" y1="294.9" x2="244.31" y2="296.7" stroke="#555" stroke-width="0.7"/>
<line x1="245.47" y1="294.9" x2="245.47" y2="296.7" stroke="#555" stroke-width="0.7"/>
<line x1="253.3" y1="294.9" x2="253.3" y2="296.7" stroke="#555" stroke-width="0.7"/>
<line x1="257.28" y1="294.9" x2="257.28" y2="296.7" stroke="#555" stroke-width="0.7"/>
<line x1="260.11" y1="294.9" x2="260.11" y2="296.7" stroke="#555" stroke-width="0.7"/>
<line x1="262.3" y1="294.9" x2="262.3" y2="296.7" stroke="#555" stroke-width="0.7"/>
<line x1="264.09" y1="294.9" x2="264.09" y2="296.7" stroke="#555" stroke-width="0.7"/>
<line x1="265.6" y1="294.9" x2="265.6" y2="296.7" stroke="#555" stroke-width="0.7"/>
<line x1="266.91" y1="294.9" x2="266.91" y2="296.7" stroke="#555" stroke-width="0.7"/>
<line x1="268.07" y1="294.9" x2="268.07" y2="296.7" stroke="#555" stroke-width="0.7"/>
<line x1="275.9" y1="294.9" x2="275.9" y2="296.7" stroke="#555" stroke-width="0.7"/>
<line x1="279.88" y1="294.9" x2="279.88" y2="296.7" stroke="#555" stroke-width="0.7"/>
<line x1="282.71" y1="294.9" x2="282.71" y2="296.7" stroke="#555" stroke-width="0.7"/>
<line x1="284.9" y1="294.9" x2="284.9" y2="296.7" stroke="#555" stroke-width="0.7"/>
<line x1="286.69" y1="294.9" x2="286.69" y2="296.7" stroke="#555" stroke-width="0.7"/>
<line x1="288.2" y1="294.9" x2="288.2" y2="296.7" stroke="#555" stroke-width="0.7"/>
<line x1="289.51" y1="294.9" x2="289.51" y2="296.7" stroke="#555" stroke-width="0.7"/>
<line x1="290.67" y1="294.9" x2="290.67" y2="296.7" stroke="#555" stroke-width="0.7"/>
<line x1="298.5" y1="294.9" x2="298.5" y2="296.7" stroke="#555" stroke-width="0.7"/>
<line x1="302.48" y1="294.9" x2="302.48" y2="296.7" stroke="#555" stroke-width="0.7"/>
<line x1="305.31" y1="294.9" x2="305.31" y2="296.7" stroke="#555" stroke-width="0.7"/>
<line x1="307.5" y1="294.9" x2="307.5" y2="296.7" stroke="#555" stroke-width="0.7"/>
<line x1="309.29" y1="294.9" x2="309.29" y2="296.7" stroke="#555" stroke-width="0.7"/>
<line x1="310.8" y1="294.9" x2="310.8" y2="296.7" stroke="#555" stroke-width="0.7"/>
<line x1="312.11" y1="294.9" x2="312.11" y2="296.7" stroke="#555" stroke-width="0.7"/>
<line x1="313.27" y1="294.9" x2="313.27" y2="296.7" stroke="#555" stroke-width="0.7"/>
<line x1="223.9" y1="294.9" x2="223.9" y2="297.9" stroke="#555" stroke-width="0.8"/>
<text x="219.9" y="303.2" font-size="5.8" font-weight="normal" fill="#444" text-anchor="start" textLength="5.6" lengthAdjust="spacingAndGlyphs" >10</text>
<text x="225.7" y="300.5" font-size="4.2" font-weight="normal" fill="#444" text-anchor="start" >2</text>
<line x1="246.5" y1="294.9" x2="246.5" y2="297.9" stroke="#555" stroke-width="0.8"/>
<text x="242.5" y="303.2" font-size="5.8" font-weight="normal" fill="#444" text-anchor="start" textLength="5.6" lengthAdjust="spacingAndGlyphs" >10</text>
<text x="248.3" y="300.5" font-size="4.2" font-weight="normal" fill="#444" text-anchor="start" >3</text>
<line x1="269.1" y1="294.9" x2="269.1" y2="297.9" stroke="#555" stroke-width="0.8"/>
<text x="265.1" y="303.2" font-size="5.8" font-weight="normal" fill="#444" text-anchor="start" textLength="5.6" lengthAdjust="spacingAndGlyphs" >10</text>
<text x="270.9" y="300.5" font-size="4.2" font-weight="normal" fill="#444" text-anchor="start" >4</text>
<line x1="291.7" y1="294.9" x2="291.7" y2="297.9" stroke="#555" stroke-width="0.8"/>
<text x="287.7" y="303.2" font-size="5.8" font-weight="normal" fill="#444" text-anchor="start" textLength="5.6" lengthAdjust="spacingAndGlyphs" >10</text>
<text x="293.5" y="300.5" font-size="4.2" font-weight="normal" fill="#444" text-anchor="start" >5</text>
<line x1="314.3" y1="294.9" x2="314.3" y2="297.9" stroke="#555" stroke-width="0.8"/>
<text x="310.3" y="303.2" font-size="5.8" font-weight="normal" fill="#444" text-anchor="start" textLength="5.6" lengthAdjust="spacingAndGlyphs" >10</text>
<text x="316.1" y="300.5" font-size="4.2" font-weight="normal" fill="#444" text-anchor="start" >6</text>
<text x="269.1" y="309.4" font-size="5.6" font-weight="normal" fill="#444" text-anchor="middle" textLength="15.3" lengthAdjust="spacingAndGlyphs" >PC7-A</text>
<text x="264.2" y="202.4" font-size="5.6" font-weight="normal" fill="#333" text-anchor="middle" textLength="52.5" lengthAdjust="spacingAndGlyphs" >MDAN 0.1 DOX 2 : P2</text>
<clipPath id="c223_324"><rect x="223.9" y="322.5" width="90.4" height="92.89999999999998"/></clipPath>
<path d="M236.2 415.4 L236.2 414.9 L236.5 414.8 L237.0 414.6 L237.6 414.4 L238.4 413.8 L239.0 413.7 L239.6 413.4 L240.0 413.2 L240.4 412.8 L240.9 412.7 L241.5 412.1 L242.1 412.0 L242.6 411.7 L243.0 411.6 L243.4 411.9 L243.9 411.7 L244.5 412.0 L245.1 412.2 L245.6 411.7 L246.0 412.1 L246.5 411.6 L247.1 410.8 L247.9 410.3 L248.5 410.0 L248.9 409.6 L249.4 410.6 L250.0 411.6 L250.2 412.1 L250.6 411.8 L251.1 412.0 L251.7 411.9 L252.3 411.6 L253.0 411.7 L253.6 411.6 L254.1 411.4 L254.6 411.2 L255.0 411.5 L255.3 411.4 L255.8 411.5 L256.3 411.4 L256.9 411.3 L257.6 411.4 L258.3 411.3 L258.9 411.3 L259.6 410.9 L260.2 411.0 L260.7 410.8 L261.0 410.7 L261.3 411.2 L262.0 410.3 L262.6 409.0 L263.0 408.2 L263.4 408.1 L264.0 407.0 L264.6 405.5 L265.0 405.0 L265.7 401.7 L266.3 398.6 L266.9 394.0 L267.5 389.5 L268.4 374.1 L268.9 367.3 L269.4 357.4 L269.9 350.7 L270.5 346.1 L271.1 339.1 L271.8 335.5 L272.5 341.2 L273.2 343.6 L273.7 348.9 L274.5 353.9 L275.0 356.7 L275.5 365.6 L276.0 375.8 L276.7 390.1 L277.4 398.0 L278.0 404.1 L278.9 409.7 L279.8 412.6 L280.3 413.2 L281.0 414.5 L281.5 414.9 L281.5 415.4 Z" fill="#4753dc" stroke="#2f7cf5" stroke-width="0.7" clip-path="url(#c223_324)"/>
<line x1="223.9" y1="324.5" x2="314.3" y2="324.5" stroke="#b4b4b4" stroke-width="1.1"/>
<line x1="314.3" y1="324.5" x2="314.3" y2="415.4" stroke="#b4b4b4" stroke-width="1.1"/>
<line x1="223.9" y1="324" x2="223.9" y2="415.9" stroke="#a8a8a8" stroke-width="1.2"/>
<line x1="223.9" y1="415.4" x2="314.3" y2="415.4" stroke="#a8a8a8" stroke-width="1.2"/>
<line x1="220.9" y1="415.4" x2="223.9" y2="415.4" stroke="#555" stroke-width="0.8"/>
<line x1="221.9" y1="409.34" x2="223.9" y2="409.34" stroke="#555" stroke-width="0.8"/>
<line x1="221.9" y1="403.28" x2="223.9" y2="403.28" stroke="#555" stroke-width="0.8"/>
<line x1="221.9" y1="397.22" x2="223.9" y2="397.22" stroke="#555" stroke-width="0.8"/>
<line x1="221.9" y1="391.16" x2="223.9" y2="391.16" stroke="#555" stroke-width="0.8"/>
<line x1="220.9" y1="385.1" x2="223.9" y2="385.1" stroke="#555" stroke-width="0.8"/>
<line x1="221.9" y1="379.04" x2="223.9" y2="379.04" stroke="#555" stroke-width="0.8"/>
<line x1="221.9" y1="372.98" x2="223.9" y2="372.98" stroke="#555" stroke-width="0.8"/>
<line x1="221.9" y1="366.92" x2="223.9" y2="366.92" stroke="#555" stroke-width="0.8"/>
<line x1="221.9" y1="360.86" x2="223.9" y2="360.86" stroke="#555" stroke-width="0.8"/>
<line x1="220.9" y1="354.8" x2="223.9" y2="354.8" stroke="#555" stroke-width="0.8"/>
<line x1="221.9" y1="348.74" x2="223.9" y2="348.74" stroke="#555" stroke-width="0.8"/>
<line x1="221.9" y1="342.68" x2="223.9" y2="342.68" stroke="#555" stroke-width="0.8"/>
<line x1="221.9" y1="336.62" x2="223.9" y2="336.62" stroke="#555" stroke-width="0.8"/>
<line x1="221.9" y1="330.56" x2="223.9" y2="330.56" stroke="#555" stroke-width="0.8"/>
<line x1="220.9" y1="324.5" x2="223.9" y2="324.5" stroke="#555" stroke-width="0.8"/>
<text transform="translate(219.70,415.40) rotate(-90)" font-size="5.6" fill="#444" text-anchor="middle" font-family="Liberation Sans">0</text>
<text transform="translate(219.70,385.10) rotate(-90)" font-size="5.6" fill="#444" text-anchor="middle" font-family="Liberation Sans">100</text>
<text transform="translate(219.70,354.80) rotate(-90)" font-size="5.6" fill="#444" text-anchor="middle" font-family="Liberation Sans">200</text>
<text transform="translate(219.70,324.50) rotate(-90)" font-size="5.6" fill="#444" text-anchor="middle" font-family="Liberation Sans">300</text>
<text transform="translate(212.50,369.95) rotate(-90)" font-size="5.6" fill="#444" text-anchor="middle" textLength="13.7" lengthAdjust="spacingAndGlyphs">Count</text>
<line x1="230.7" y1="415.4" x2="230.7" y2="417.2" stroke="#555" stroke-width="0.7"/>
<line x1="234.68" y1="415.4" x2="234.68" y2="417.2" stroke="#555" stroke-width="0.7"/>
<line x1="237.51" y1="415.4" x2="237.51" y2="417.2" stroke="#555" stroke-width="0.7"/>
<line x1="239.7" y1="415.4" x2="239.7" y2="417.2" stroke="#555" stroke-width="0.7"/>
<line x1="241.49" y1="415.4" x2="241.49" y2="417.2" stroke="#555" stroke-width="0.7"/>
<line x1="243" y1="415.4" x2="243" y2="417.2" stroke="#555" stroke-width="0.7"/>
<line x1="244.31" y1="415.4" x2="244.31" y2="417.2" stroke="#555" stroke-width="0.7"/>
<line x1="245.47" y1="415.4" x2="245.47" y2="417.2" stroke="#555" stroke-width="0.7"/>
<line x1="253.3" y1="415.4" x2="253.3" y2="417.2" stroke="#555" stroke-width="0.7"/>
<line x1="257.28" y1="415.4" x2="257.28" y2="417.2" stroke="#555" stroke-width="0.7"/>
<line x1="260.11" y1="415.4" x2="260.11" y2="417.2" stroke="#555" stroke-width="0.7"/>
<line x1="262.3" y1="415.4" x2="262.3" y2="417.2" stroke="#555" stroke-width="0.7"/>
<line x1="264.09" y1="415.4" x2="264.09" y2="417.2" stroke="#555" stroke-width="0.7"/>
<line x1="265.6" y1="415.4" x2="265.6" y2="417.2" stroke="#555" stroke-width="0.7"/>
<line x1="266.91" y1="415.4" x2="266.91" y2="417.2" stroke="#555" stroke-width="0.7"/>
<line x1="268.07" y1="415.4" x2="268.07" y2="417.2" stroke="#555" stroke-width="0.7"/>
<line x1="275.9" y1="415.4" x2="275.9" y2="417.2" stroke="#555" stroke-width="0.7"/>
<line x1="279.88" y1="415.4" x2="279.88" y2="417.2" stroke="#555" stroke-width="0.7"/>
<line x1="282.71" y1="415.4" x2="282.71" y2="417.2" stroke="#555" stroke-width="0.7"/>
<line x1="284.9" y1="415.4" x2="284.9" y2="417.2" stroke="#555" stroke-width="0.7"/>
<line x1="286.69" y1="415.4" x2="286.69" y2="417.2" stroke="#555" stroke-width="0.7"/>
<line x1="288.2" y1="415.4" x2="288.2" y2="417.2" stroke="#555" stroke-width="0.7"/>
<line x1="289.51" y1="415.4" x2="289.51" y2="417.2" stroke="#555" stroke-width="0.7"/>
<line x1="290.67" y1="415.4" x2="290.67" y2="417.2" stroke="#555" stroke-width="0.7"/>
<line x1="298.5" y1="415.4" x2="298.5" y2="417.2" stroke="#555" stroke-width="0.7"/>
<line x1="302.48" y1="415.4" x2="302.48" y2="417.2" stroke="#555" stroke-width="0.7"/>
<line x1="305.31" y1="415.4" x2="305.31" y2="417.2" stroke="#555" stroke-width="0.7"/>
<line x1="307.5" y1="415.4" x2="307.5" y2="417.2" stroke="#555" stroke-width="0.7"/>
<line x1="309.29" y1="415.4" x2="309.29" y2="417.2" stroke="#555" stroke-width="0.7"/>
<line x1="310.8" y1="415.4" x2="310.8" y2="417.2" stroke="#555" stroke-width="0.7"/>
<line x1="312.11" y1="415.4" x2="312.11" y2="417.2" stroke="#555" stroke-width="0.7"/>
<line x1="313.27" y1="415.4" x2="313.27" y2="417.2" stroke="#555" stroke-width="0.7"/>
<line x1="223.9" y1="415.4" x2="223.9" y2="418.4" stroke="#555" stroke-width="0.8"/>
<text x="219.9" y="423.7" font-size="5.8" font-weight="normal" fill="#444" text-anchor="start" textLength="5.6" lengthAdjust="spacingAndGlyphs" >10</text>
<text x="225.7" y="421" font-size="4.2" font-weight="normal" fill="#444" text-anchor="start" >2</text>
<line x1="246.5" y1="415.4" x2="246.5" y2="418.4" stroke="#555" stroke-width="0.8"/>
<text x="242.5" y="423.7" font-size="5.8" font-weight="normal" fill="#444" text-anchor="start" textLength="5.6" lengthAdjust="spacingAndGlyphs" >10</text>
<text x="248.3" y="421" font-size="4.2" font-weight="normal" fill="#444" text-anchor="start" >3</text>
<line x1="269.1" y1="415.4" x2="269.1" y2="418.4" stroke="#555" stroke-width="0.8"/>
<text x="265.1" y="423.7" font-size="5.8" font-weight="normal" fill="#444" text-anchor="start" textLength="5.6" lengthAdjust="spacingAndGlyphs" >10</text>
<text x="270.9" y="421" font-size="4.2" font-weight="normal" fill="#444" text-anchor="start" >4</text>
<line x1="291.7" y1="415.4" x2="291.7" y2="418.4" stroke="#555" stroke-width="0.8"/>
<text x="287.7" y="423.7" font-size="5.8" font-weight="normal" fill="#444" text-anchor="start" textLength="5.6" lengthAdjust="spacingAndGlyphs" >10</text>
<text x="293.5" y="421" font-size="4.2" font-weight="normal" fill="#444" text-anchor="start" >5</text>
<line x1="314.3" y1="415.4" x2="314.3" y2="418.4" stroke="#555" stroke-width="0.8"/>
<text x="310.3" y="423.7" font-size="5.8" font-weight="normal" fill="#444" text-anchor="start" textLength="5.6" lengthAdjust="spacingAndGlyphs" >10</text>
<text x="316.1" y="421" font-size="4.2" font-weight="normal" fill="#444" text-anchor="start" >6</text>
<text x="269.1" y="429.9" font-size="5.6" font-weight="normal" fill="#444" text-anchor="middle" textLength="15.3" lengthAdjust="spacingAndGlyphs" >PC7-A</text>
<text x="264.2" y="323" font-size="5.6" font-weight="normal" fill="#333" text-anchor="middle" textLength="52.5" lengthAdjust="spacingAndGlyphs" >MDAR 0.1 DOX 2 : P2</text>
<clipPath id="c342_203"><rect x="342.2" y="201.9" width="90.19999999999999" height="92.99999999999997"/></clipPath>
<path d="M358.0 294.9 L358.0 294.9 L358.2 294.8 L358.7 294.7 L359.2 294.6 L359.9 294.3 L360.5 294.0 L361.1 293.8 L361.6 293.9 L362.0 293.3 L362.4 293.4 L362.8 293.2 L363.4 293.8 L364.0 293.6 L364.6 293.8 L365.2 293.3 L365.6 293.6 L366.0 293.6 L366.4 293.4 L366.9 292.9 L367.5 292.8 L368.1 293.0 L368.8 292.9 L369.4 292.1 L369.9 292.2 L370.3 292.0 L370.7 292.5 L371.1 292.4 L371.7 291.7 L372.3 291.8 L373.0 292.1 L373.6 291.1 L374.2 291.2 L374.7 291.0 L375.0 291.6 L375.4 290.7 L375.9 291.4 L376.5 290.3 L377.2 290.6 L377.7 290.5 L378.2 290.1 L378.6 289.5 L379.0 290.1 L379.6 290.0 L380.3 289.2 L381.0 289.3 L381.6 289.2 L382.0 289.0 L382.4 288.9 L382.9 288.5 L383.5 288.0 L384.1 287.7 L384.7 286.8 L385.0 287.3 L385.5 286.8 L386.1 286.9 L386.6 286.3 L387.0 286.6 L387.5 285.0 L388.0 284.4 L388.5 284.4 L389.0 285.9 L389.4 285.9 L390.0 284.0 L390.6 281.8 L391.0 282.8 L391.5 282.0 L392.1 284.0 L392.5 284.5 L393.0 283.0 L393.6 282.3 L394.0 281.0 L394.6 280.3 L395.3 279.3 L395.8 279.5 L396.5 276.6 L397.0 275.5 L397.5 274.5 L398.2 273.5 L398.8 272.4 L399.5 270.3 L400.2 267.1 L400.9 264.7 L401.5 260.0 L402.1 258.2 L402.6 255.2 L403.2 251.8 L403.9 246.3 L404.4 249.0 L405.0 253.4 L405.7 258.0 L406.4 261.6 L407.0 267.0 L407.5 272.1 L408.0 280.7 L408.2 288.7 L409.0 292.2 L409.5 293.3 L410.0 294.9 L410.0 294.9 Z" fill="#4753dc" stroke="#2f7cf5" stroke-width="0.7" clip-path="url(#c342_203)"/>
<line x1="342.2" y1="203.9" x2="432.4" y2="203.9" stroke="#b4b4b4" stroke-width="1.1"/>
<line x1="432.4" y1="203.9" x2="432.4" y2="294.9" stroke="#b4b4b4" stroke-width="1.1"/>
<line x1="342.2" y1="203.4" x2="342.2" y2="295.4" stroke="#a8a8a8" stroke-width="1.2"/>
<line x1="342.2" y1="294.9" x2="432.4" y2="294.9" stroke="#a8a8a8" stroke-width="1.2"/>
<line x1="339.2" y1="294.9" x2="342.2" y2="294.9" stroke="#555" stroke-width="0.8"/>
<line x1="340.2" y1="288.83" x2="342.2" y2="288.83" stroke="#555" stroke-width="0.8"/>
<line x1="340.2" y1="282.77" x2="342.2" y2="282.77" stroke="#555" stroke-width="0.8"/>
<line x1="340.2" y1="276.7" x2="342.2" y2="276.7" stroke="#555" stroke-width="0.8"/>
<line x1="340.2" y1="270.63" x2="342.2" y2="270.63" stroke="#555" stroke-width="0.8"/>
<line x1="339.2" y1="264.57" x2="342.2" y2="264.57" stroke="#555" stroke-width="0.8"/>
<line x1="340.2" y1="258.5" x2="342.2" y2="258.5" stroke="#555" stroke-width="0.8"/>
<line x1="340.2" y1="252.43" x2="342.2" y2="252.43" stroke="#555" stroke-width="0.8"/>
<line x1="340.2" y1="246.37" x2="342.2" y2="246.37" stroke="#555" stroke-width="0.8"/>
<line x1="340.2" y1="240.3" x2="342.2" y2="240.3" stroke="#555" stroke-width="0.8"/>
<line x1="339.2" y1="234.23" x2="342.2" y2="234.23" stroke="#555" stroke-width="0.8"/>
<line x1="340.2" y1="228.17" x2="342.2" y2="228.17" stroke="#555" stroke-width="0.8"/>
<line x1="340.2" y1="222.1" x2="342.2" y2="222.1" stroke="#555" stroke-width="0.8"/>
<line x1="340.2" y1="216.03" x2="342.2" y2="216.03" stroke="#555" stroke-width="0.8"/>
<line x1="340.2" y1="209.97" x2="342.2" y2="209.97" stroke="#555" stroke-width="0.8"/>
<line x1="339.2" y1="203.9" x2="342.2" y2="203.9" stroke="#555" stroke-width="0.8"/>
<text transform="translate(338.00,294.90) rotate(-90)" font-size="5.6" fill="#444" text-anchor="middle" font-family="Liberation Sans">0</text>
<text transform="translate(338.00,264.57) rotate(-90)" font-size="5.6" fill="#444" text-anchor="middle" font-family="Liberation Sans">100</text>
<text transform="translate(338.00,234.23) rotate(-90)" font-size="5.6" fill="#444" text-anchor="middle" font-family="Liberation Sans">200</text>
<text transform="translate(338.00,203.90) rotate(-90)" font-size="5.6" fill="#444" text-anchor="middle" font-family="Liberation Sans">300</text>
<text transform="translate(330.80,249.40) rotate(-90)" font-size="5.6" fill="#444" text-anchor="middle" textLength="13.7" lengthAdjust="spacingAndGlyphs">Count</text>
<line x1="348.99" y1="294.9" x2="348.99" y2="296.7" stroke="#555" stroke-width="0.7"/>
<line x1="352.96" y1="294.9" x2="352.96" y2="296.7" stroke="#555" stroke-width="0.7"/>
<line x1="355.78" y1="294.9" x2="355.78" y2="296.7" stroke="#555" stroke-width="0.7"/>
<line x1="357.96" y1="294.9" x2="357.96" y2="296.7" stroke="#555" stroke-width="0.7"/>
<line x1="359.75" y1="294.9" x2="359.75" y2="296.7" stroke="#555" stroke-width="0.7"/>
<line x1="361.26" y1="294.9" x2="361.26" y2="296.7" stroke="#555" stroke-width="0.7"/>
<line x1="362.56" y1="294.9" x2="362.56" y2="296.7" stroke="#555" stroke-width="0.7"/>
<line x1="363.72" y1="294.9" x2="363.72" y2="296.7" stroke="#555" stroke-width="0.7"/>
<line x1="371.54" y1="294.9" x2="371.54" y2="296.7" stroke="#555" stroke-width="0.7"/>
<line x1="375.51" y1="294.9" x2="375.51" y2="296.7" stroke="#555" stroke-width="0.7"/>
<line x1="378.33" y1="294.9" x2="378.33" y2="296.7" stroke="#555" stroke-width="0.7"/>
<line x1="380.51" y1="294.9" x2="380.51" y2="296.7" stroke="#555" stroke-width="0.7"/>
<line x1="382.3" y1="294.9" x2="382.3" y2="296.7" stroke="#555" stroke-width="0.7"/>
<line x1="383.81" y1="294.9" x2="383.81" y2="296.7" stroke="#555" stroke-width="0.7"/>
<line x1="385.11" y1="294.9" x2="385.11" y2="296.7" stroke="#555" stroke-width="0.7"/>
<line x1="386.27" y1="294.9" x2="386.27" y2="296.7" stroke="#555" stroke-width="0.7"/>
<line x1="394.09" y1="294.9" x2="394.09" y2="296.7" stroke="#555" stroke-width="0.7"/>
<line x1="398.06" y1="294.9" x2="398.06" y2="296.7" stroke="#555" stroke-width="0.7"/>
<line x1="400.88" y1="294.9" x2="400.88" y2="296.7" stroke="#555" stroke-width="0.7"/>
<line x1="403.06" y1="294.9" x2="403.06" y2="296.7" stroke="#555" stroke-width="0.7"/>
<line x1="404.85" y1="294.9" x2="404.85" y2="296.7" stroke="#555" stroke-width="0.7"/>
<line x1="406.36" y1="294.9" x2="406.36" y2="296.7" stroke="#555" stroke-width="0.7"/>
<line x1="407.66" y1="294.9" x2="407.66" y2="296.7" stroke="#555" stroke-width="0.7"/>
<line x1="408.82" y1="294.9" x2="408.82" y2="296.7" stroke="#555" stroke-width="0.7"/>
<line x1="416.64" y1="294.9" x2="416.64" y2="296.7" stroke="#555" stroke-width="0.7"/>
<line x1="420.61" y1="294.9" x2="420.61" y2="296.7" stroke="#555" stroke-width="0.7"/>
<line x1="423.43" y1="294.9" x2="423.43" y2="296.7" stroke="#555" stroke-width="0.7"/>
<line x1="425.61" y1="294.9" x2="425.61" y2="296.7" stroke="#555" stroke-width="0.7"/>
<line x1="427.4" y1="294.9" x2="427.4" y2="296.7" stroke="#555" stroke-width="0.7"/>
<line x1="428.91" y1="294.9" x2="428.91" y2="296.7" stroke="#555" stroke-width="0.7"/>
<line x1="430.21" y1="294.9" x2="430.21" y2="296.7" stroke="#555" stroke-width="0.7"/>
<line x1="431.37" y1="294.9" x2="431.37" y2="296.7" stroke="#555" stroke-width="0.7"/>
<line x1="342.2" y1="294.9" x2="342.2" y2="297.9" stroke="#555" stroke-width="0.8"/>
<text x="338.2" y="303.2" font-size="5.8" font-weight="normal" fill="#444" text-anchor="start" textLength="5.6" lengthAdjust="spacingAndGlyphs" >10</text>
<text x="344" y="300.5" font-size="4.2" font-weight="normal" fill="#444" text-anchor="start" >2</text>
<line x1="364.75" y1="294.9" x2="364.75" y2="297.9" stroke="#555" stroke-width="0.8"/>
<text x="360.75" y="303.2" font-size="5.8" font-weight="normal" fill="#444" text-anchor="start" textLength="5.6" lengthAdjust="spacingAndGlyphs" >10</text>
<text x="366.55" y="300.5" font-size="4.2" font-weight="normal" fill="#444" text-anchor="start" >3</text>
<line x1="387.3" y1="294.9" x2="387.3" y2="297.9" stroke="#555" stroke-width="0.8"/>
<text x="383.3" y="303.2" font-size="5.8" font-weight="normal" fill="#444" text-anchor="start" textLength="5.6" lengthAdjust="spacingAndGlyphs" >10</text>
<text x="389.1" y="300.5" font-size="4.2" font-weight="normal" fill="#444" text-anchor="start" >4</text>
<line x1="409.85" y1="294.9" x2="409.85" y2="297.9" stroke="#555" stroke-width="0.8"/>
<text x="405.85" y="303.2" font-size="5.8" font-weight="normal" fill="#444" text-anchor="start" textLength="5.6" lengthAdjust="spacingAndGlyphs" >10</text>
<text x="411.65" y="300.5" font-size="4.2" font-weight="normal" fill="#444" text-anchor="start" >5</text>
<line x1="432.4" y1="294.9" x2="432.4" y2="297.9" stroke="#555" stroke-width="0.8"/>
<text x="428.4" y="303.2" font-size="5.8" font-weight="normal" fill="#444" text-anchor="start" textLength="5.6" lengthAdjust="spacingAndGlyphs" >10</text>
<text x="434.2" y="300.5" font-size="4.2" font-weight="normal" fill="#444" text-anchor="start" >6</text>
<text x="387.3" y="309.4" font-size="5.6" font-weight="normal" fill="#444" text-anchor="middle" textLength="15.3" lengthAdjust="spacingAndGlyphs" >PC7-A</text>
<text x="382.5" y="202.4" font-size="5.6" font-weight="normal" fill="#333" text-anchor="middle" textLength="52.5" lengthAdjust="spacingAndGlyphs" >MDAN 0.4 DOX 2 : P2</text>
<clipPath id="c342_324"><rect x="342.2" y="322.5" width="90.19999999999999" height="92.89999999999998"/></clipPath>
<path d="M359.5 415.4 L359.5 414.9 L359.8 414.6 L360.4 414.4 L361.0 414.1 L361.6 413.4 L362.0 413.5 L362.5 412.8 L363.1 412.3 L363.4 412.0 L363.8 411.7 L364.4 411.5 L365.1 411.5 L365.8 411.1 L366.4 411.3 L367.0 410.9 L367.5 411.0 L367.8 410.7 L368.4 411.2 L369.0 411.6 L369.6 411.9 L370.0 412.2 L370.4 411.9 L370.9 411.9 L371.4 411.6 L372.0 411.5 L372.3 411.4 L372.7 411.1 L373.2 411.4 L373.8 411.2 L374.4 410.6 L375.1 411.0 L375.8 410.4 L376.4 410.3 L377.0 410.6 L377.5 409.8 L377.9 409.7 L378.2 409.9 L378.9 410.2 L379.4 410.9 L380.0 411.9 L380.3 411.6 L380.6 411.7 L381.1 411.5 L381.7 411.5 L382.3 411.6 L382.9 411.7 L383.5 411.5 L384.1 411.7 L384.6 411.7 L385.0 412.0 L385.3 412.1 L385.7 412.0 L386.2 411.9 L386.7 412.0 L387.4 411.5 L388.0 411.6 L388.7 411.5 L389.4 411.5 L390.0 411.4 L390.7 411.5 L391.3 411.8 L391.8 411.2 L392.2 411.2 L392.6 411.3 L392.8 411.2 L393.7 409.7 L394.1 408.4 L394.7 403.9 L395.3 400.4 L395.8 395.8 L396.3 390.4 L396.8 383.6 L397.3 378.6 L397.8 371.3 L398.3 364.8 L398.8 361.3 L399.3 357.3 L399.8 354.0 L400.3 351.0 L401.1 350.2 L402.0 348.7 L402.8 351.6 L403.6 351.2 L404.0 359.0 L404.6 370.6 L405.3 389.6 L405.8 395.8 L406.3 399.9 L406.8 404.2 L407.4 407.5 L407.8 408.9 L408.4 411.1 L409.1 413.5 L409.4 414.9 L409.4 415.4 Z" fill="#4753dc" stroke="#2f7cf5" stroke-width="0.7" clip-path="url(#c342_324)"/>
<line x1="342.2" y1="324.5" x2="432.4" y2="324.5" stroke="#b4b4b4" stroke-width="1.1"/>
<line x1="432.4" y1="324.5" x2="432.4" y2="415.4" stroke="#b4b4b4" stroke-width="1.1"/>
<line x1="342.2" y1="324" x2="342.2" y2="415.9" stroke="#a8a8a8" stroke-width="1.2"/>
<line x1="342.2" y1="415.4" x2="432.4" y2="415.4" stroke="#a8a8a8" stroke-width="1.2"/>
<line x1="339.2" y1="415.4" x2="342.2" y2="415.4" stroke="#555" stroke-width="0.8"/>
<line x1="340.2" y1="409.34" x2="342.2" y2="409.34" stroke="#555" stroke-width="0.8"/>
<line x1="340.2" y1="403.28" x2="342.2" y2="403.28" stroke="#555" stroke-width="0.8"/>
<line x1="340.2" y1="397.22" x2="342.2" y2="397.22" stroke="#555" stroke-width="0.8"/>
<line x1="340.2" y1="391.16" x2="342.2" y2="391.16" stroke="#555" stroke-width="0.8"/>
<line x1="339.2" y1="385.1" x2="342.2" y2="385.1" stroke="#555" stroke-width="0.8"/>
<line x1="340.2" y1="379.04" x2="342.2" y2="379.04" stroke="#555" stroke-width="0.8"/>
<line x1="340.2" y1="372.98" x2="342.2" y2="372.98" stroke="#555" stroke-width="0.8"/>
<line x1="340.2" y1="366.92" x2="342.2" y2="366.92" stroke="#555" stroke-width="0.8"/>
<line x1="340.2" y1="360.86" x2="342.2" y2="360.86" stroke="#555" stroke-width="0.8"/>
<line x1="339.2" y1="354.8" x2="342.2" y2="354.8" stroke="#555" stroke-width="0.8"/>
<line x1="340.2" y1="348.74" x2="342.2" y2="348.74" stroke="#555" stroke-width="0.8"/>
<line x1="340.2" y1="342.68" x2="342.2" y2="342.68" stroke="#555" stroke-width="0.8"/>
<line x1="340.2" y1="336.62" x2="342.2" y2="336.62" stroke="#555" stroke-width="0.8"/>
<line x1="340.2" y1="330.56" x2="342.2" y2="330.56" stroke="#555" stroke-width="0.8"/>
<line x1="339.2" y1="324.5" x2="342.2" y2="324.5" stroke="#555" stroke-width="0.8"/>
<text transform="translate(338.00,415.40) rotate(-90)" font-size="5.6" fill="#444" text-anchor="middle" font-family="Liberation Sans">0</text>
<text transform="translate(338.00,385.10) rotate(-90)" font-size="5.6" fill="#444" text-anchor="middle" font-family="Liberation Sans">100</text>
<text transform="translate(338.00,354.80) rotate(-90)" font-size="5.6" fill="#444" text-anchor="middle" font-family="Liberation Sans">200</text>
<text transform="translate(338.00,324.50) rotate(-90)" font-size="5.6" fill="#444" text-anchor="middle" font-family="Liberation Sans">300</text>
<text transform="translate(330.80,369.95) rotate(-90)" font-size="5.6" fill="#444" text-anchor="middle" textLength="13.7" lengthAdjust="spacingAndGlyphs">Count</text>
<line x1="348.99" y1="415.4" x2="348.99" y2="417.2" stroke="#555" stroke-width="0.7"/>
<line x1="352.96" y1="415.4" x2="352.96" y2="417.2" stroke="#555" stroke-width="0.7"/>
<line x1="355.78" y1="415.4" x2="355.78" y2="417.2" stroke="#555" stroke-width="0.7"/>
<line x1="357.96" y1="415.4" x2="357.96" y2="417.2" stroke="#555" stroke-width="0.7"/>
<line x1="359.75" y1="415.4" x2="359.75" y2="417.2" stroke="#555" stroke-width="0.7"/>
<line x1="361.26" y1="415.4" x2="361.26" y2="417.2" stroke="#555" stroke-width="0.7"/>
<line x1="362.56" y1="415.4" x2="362.56" y2="417.2" stroke="#555" stroke-width="0.7"/>
<line x1="363.72" y1="415.4" x2="363.72" y2="417.2" stroke="#555" stroke-width="0.7"/>
<line x1="371.54" y1="415.4" x2="371.54" y2="417.2" stroke="#555" stroke-width="0.7"/>
<line x1="375.51" y1="415.4" x2="375.51" y2="417.2" stroke="#555" stroke-width="0.7"/>
<line x1="378.33" y1="415.4" x2="378.33" y2="417.2" stroke="#555" stroke-width="0.7"/>
<line x1="380.51" y1="415.4" x2="380.51" y2="417.2" stroke="#555" stroke-width="0.7"/>
<line x1="382.3" y1="415.4" x2="382.3" y2="417.2" stroke="#555" stroke-width="0.7"/>
<line x1="383.81" y1="415.4" x2="383.81" y2="417.2" stroke="#555" stroke-width="0.7"/>
<line x1="385.11" y1="415.4" x2="385.11" y2="417.2" stroke="#555" stroke-width="0.7"/>
<line x1="386.27" y1="415.4" x2="386.27" y2="417.2" stroke="#555" stroke-width="0.7"/>
<line x1="394.09" y1="415.4" x2="394.09" y2="417.2" stroke="#555" stroke-width="0.7"/>
<line x1="398.06" y1="415.4" x2="398.06" y2="417.2" stroke="#555" stroke-width="0.7"/>
<line x1="400.88" y1="415.4" x2="400.88" y2="417.2" stroke="#555" stroke-width="0.7"/>
<line x1="403.06" y1="415.4" x2="403.06" y2="417.2" stroke="#555" stroke-width="0.7"/>
<line x1="404.85" y1="415.4" x2="404.85" y2="417.2" stroke="#555" stroke-width="0.7"/>
<line x1="406.36" y1="415.4" x2="406.36" y2="417.2" stroke="#555" stroke-width="0.7"/>
<line x1="407.66" y1="415.4" x2="407.66" y2="417.2" stroke="#555" stroke-width="0.7"/>
<line x1="408.82" y1="415.4" x2="408.82" y2="417.2" stroke="#555" stroke-width="0.7"/>
<line x1="416.64" y1="415.4" x2="416.64" y2="417.2" stroke="#555" stroke-width="0.7"/>
<line x1="420.61" y1="415.4" x2="420.61" y2="417.2" stroke="#555" stroke-width="0.7"/>
<line x1="423.43" y1="415.4" x2="423.43" y2="417.2" stroke="#555" stroke-width="0.7"/>
<line x1="425.61" y1="415.4" x2="425.61" y2="417.2" stroke="#555" stroke-width="0.7"/>
<line x1="427.4" y1="415.4" x2="427.4" y2="417.2" stroke="#555" stroke-width="0.7"/>
<line x1="428.91" y1="415.4" x2="428.91" y2="417.2" stroke="#555" stroke-width="0.7"/>
<line x1="430.21" y1="415.4" x2="430.21" y2="417.2" stroke="#555" stroke-width="0.7"/>
<line x1="431.37" y1="415.4" x2="431.37" y2="417.2" stroke="#555" stroke-width="0.7"/>
<line x1="342.2" y1="415.4" x2="342.2" y2="418.4" stroke="#555" stroke-width="0.8"/>
<text x="338.2" y="423.7" font-size="5.8" font-weight="normal" fill="#444" text-anchor="start" textLength="5.6" lengthAdjust="spacingAndGlyphs" >10</text>
<text x="344" y="421" font-size="4.2" font-weight="normal" fill="#444" text-anchor="start" >2</text>
<line x1="364.75" y1="415.4" x2="364.75" y2="418.4" stroke="#555" stroke-width="0.8"/>
<text x="360.75" y="423.7" font-size="5.8" font-weight="normal" fill="#444" text-anchor="start" textLength="5.6" lengthAdjust="spacingAndGlyphs" >10</text>
<text x="366.55" y="421" font-size="4.2" font-weight="normal" fill="#444" text-anchor="start" >3</text>
<line x1="387.3" y1="415.4" x2="387.3" y2="418.4" stroke="#555" stroke-width="0.8"/>
<text x="383.3" y="423.7" font-size="5.8" font-weight="normal" fill="#444" text-anchor="start" textLength="5.6" lengthAdjust="spacingAndGlyphs" >10</text>
<text x="389.1" y="421" font-size="4.2" font-weight="normal" fill="#444" text-anchor="start" >4</text>
<line x1="409.85" y1="415.4" x2="409.85" y2="418.4" stroke="#555" stroke-width="0.8"/>
<text x="405.85" y="423.7" font-size="5.8" font-weight="normal" fill="#444" text-anchor="start" textLength="5.6" lengthAdjust="spacingAndGlyphs" >10</text>
<text x="411.65" y="421" font-size="4.2" font-weight="normal" fill="#444" text-anchor="start" >5</text>
<line x1="432.4" y1="415.4" x2="432.4" y2="418.4" stroke="#555" stroke-width="0.8"/>
<text x="428.4" y="423.7" font-size="5.8" font-weight="normal" fill="#444" text-anchor="start" textLength="5.6" lengthAdjust="spacingAndGlyphs" >10</text>
<text x="434.2" y="421" font-size="4.2" font-weight="normal" fill="#444" text-anchor="start" >6</text>
<text x="387.3" y="429.9" font-size="5.6" font-weight="normal" fill="#444" text-anchor="middle" textLength="15.3" lengthAdjust="spacingAndGlyphs" >PC7-A</text>
<text x="382.5" y="323" font-size="5.6" font-weight="normal" fill="#333" text-anchor="middle" textLength="52.5" lengthAdjust="spacingAndGlyphs" >MDAR 0.4 DOX 2 : P2</text>
<clipPath id="c458_203"><rect x="458.3" y="201.9" width="90.30000000000001" height="92.99999999999997"/></clipPath>
<clipPath id="c458_203p512"><rect x="0" y="0" width="512.4" height="432"/></clipPath>
<clipPath id="c458_203p512b"><rect x="512.4" y="0" width="300" height="432"/></clipPath>
<g clip-path="url(#c458_203)"><path d="M474.4 294.9 L474.4 294.5 L474.6 294.3 L475.0 294.6 L475.5 294.3 L476.0 294.3 L476.6 294.2 L477.3 294.4 L477.9 293.6 L478.5 294.2 L479.1 293.2 L479.6 293.1 L480.0 294.1 L480.3 293.4 L480.7 292.8 L481.3 292.4 L481.8 292.8 L482.5 292.9 L483.1 292.7 L483.8 291.1 L484.5 292.1 L485.2 291.1 L485.8 291.7 L486.3 290.7 L486.8 289.6 L487.2 291.2 L487.4 289.6 L488.1 290.0 L488.7 289.0 L489.3 289.1 L489.6 290.1 L490.0 288.2 L490.5 288.8 L491.1 289.6 L491.7 289.2 L492.4 287.4 L493.1 287.0 L493.7 287.0 L494.3 287.0 L494.8 286.0 L495.2 285.9 L495.5 284.0 L496.1 286.5 L496.6 283.9 L497.2 283.6 L497.6 285.7 L498.0 282.8 L498.5 283.1 L499.2 281.9 L499.8 283.4 L500.5 282.6 L501.0 282.0 L501.3 279.4 L502.0 278.2 L502.3 278.9 L502.8 278.3 L503.4 278.6 L504.0 279.2 L504.6 278.7 L505.0 275.2 L505.4 277.4 L505.9 274.1 L506.6 276.7 L507.2 276.1 L507.8 274.6 L508.4 275.9 L508.7 275.0 L509.3 273.6 L510.1 276.3 L510.6 278.1 L511.2 279.5 L511.9 279.1 L512.4 279.6 L513.3 286.8 L513.7 286.8 L514.3 289.1 L515.0 287.8 L515.6 288.8 L516.1 288.1 L516.5 288.0 L517.0 288.2 L517.7 288.0 L518.4 284.3 L519.0 285.8 L519.5 283.8 L519.8 283.6 L520.6 279.4 L521.0 276.6 L521.6 274.1 L522.4 275.7 L523.0 272.3 L523.5 273.0 L524.0 270.6 L524.6 269.7 L525.3 269.1 L525.9 267.5 L526.3 266.2 L527.0 259.3 L527.7 260.0 L528.1 263.0 L528.8 261.7 L529.5 264.3 L530.0 269.6 L530.4 273.1 L531.0 275.8 L531.7 279.6 L532.4 281.6 L532.8 284.5 L533.3 285.9 L533.9 288.4 L534.7 290.4 L535.3 292.4 L535.6 294.3 L535.6 294.9 Z" fill="#4753dc" stroke="#2f7cf5" stroke-width="0.7"/><path d="M474.4 294.9 L474.4 294.5 L474.6 294.3 L475.0 294.6 L475.5 294.3 L476.0 294.3 L476.6 294.2 L477.3 294.4 L477.9 293.6 L478.5 294.2 L479.1 293.2 L479.6 293.1 L480.0 294.1 L480.3 293.4 L480.7 292.8 L481.3 292.4 L481.8 292.8 L482.5 292.9 L483.1 292.7 L483.8 291.1 L484.5 292.1 L485.2 291.1 L485.8 291.7 L486.3 290.7 L486.8 289.6 L487.2 291.2 L487.4 289.6 L488.1 290.0 L488.7 289.0 L489.3 289.1 L489.6 290.1 L490.0 288.2 L490.5 288.8 L491.1 289.6 L491.7 289.2 L492.4 287.4 L493.1 287.0 L493.7 287.0 L494.3 287.0 L494.8 286.0 L495.2 285.9 L495.5 284.0 L496.1 286.5 L496.6 283.9 L497.2 283.6 L497.6 285.7 L498.0 282.8 L498.5 283.1 L499.2 281.9 L499.8 283.4 L500.5 282.6 L501.0 282.0 L501.3 279.4 L502.0 278.2 L502.3 278.9 L502.8 278.3 L503.4 278.6 L504.0 279.2 L504.6 278.7 L505.0 275.2 L505.4 277.4 L505.9 274.1 L506.6 276.7 L507.2 276.1 L507.8 274.6 L508.4 275.9 L508.7 275.0 L509.3 273.6 L510.1 276.3 L510.6 278.1 L511.2 279.5 L511.9 279.1 L512.4 279.6 L513.3 286.8 L513.7 286.8 L514.3 289.1 L515.0 287.8 L515.6 288.8 L516.1 288.1 L516.5 288.0 L517.0 288.2 L517.7 288.0 L518.4 284.3 L519.0 285.8 L519.5 283.8 L519.8 283.6 L520.6 279.4 L521.0 276.6 L521.6 274.1 L522.4 275.7 L523.0 272.3 L523.5 273.0 L524.0 270.6 L524.6 269.7 L525.3 269.1 L525.9 267.5 L526.3 266.2 L527.0 259.3 L527.7 260.0 L528.1 263.0 L528.8 261.7 L529.5 264.3 L530.0 269.6 L530.4 273.1 L531.0 275.8 L531.7 279.6 L532.4 281.6 L532.8 284.5 L533.3 285.9 L533.9 288.4 L534.7 290.4 L535.3 292.4 L535.6 294.3 L535.6 294.9 Z" fill="#7c3fc0" stroke="#2323ee" stroke-width="0.8" clip-path="url(#c458_203p512)"/></g>
<line x1="458.3" y1="203.9" x2="548.6" y2="203.9" stroke="#b4b4b4" stroke-width="1.1"/>
<line x1="548.6" y1="203.9" x2="548.6" y2="294.9" stroke="#b4b4b4" stroke-width="1.1"/>
<line x1="458.3" y1="203.4" x2="458.3" y2="295.4" stroke="#a8a8a8" stroke-width="1.2"/>
<line x1="458.3" y1="294.9" x2="548.6" y2="294.9" stroke="#a8a8a8" stroke-width="1.2"/>
<line x1="455.3" y1="294.9" x2="458.3" y2="294.9" stroke="#555" stroke-width="0.8"/>
<line x1="456.3" y1="288.83" x2="458.3" y2="288.83" stroke="#555" stroke-width="0.8"/>
<line x1="456.3" y1="282.77" x2="458.3" y2="282.77" stroke="#555" stroke-width="0.8"/>
<line x1="456.3" y1="276.7" x2="458.3" y2="276.7" stroke="#555" stroke-width="0.8"/>
<line x1="456.3" y1="270.63" x2="458.3" y2="270.63" stroke="#555" stroke-width="0.8"/>
<line x1="455.3" y1="264.57" x2="458.3" y2="264.57" stroke="#555" stroke-width="0.8"/>
<line x1="456.3" y1="258.5" x2="458.3" y2="258.5" stroke="#555" stroke-width="0.8"/>
<line x1="456.3" y1="252.43" x2="458.3" y2="252.43" stroke="#555" stroke-width="0.8"/>
<line x1="456.3" y1="246.37" x2="458.3" y2="246.37" stroke="#555" stroke-width="0.8"/>
<line x1="456.3" y1="240.3" x2="458.3" y2="240.3" stroke="#555" stroke-width="0.8"/>
<line x1="455.3" y1="234.23" x2="458.3" y2="234.23" stroke="#555" stroke-width="0.8"/>
<line x1="456.3" y1="228.17" x2="458.3" y2="228.17" stroke="#555" stroke-width="0.8"/>
<line x1="456.3" y1="222.1" x2="458.3" y2="222.1" stroke="#555" stroke-width="0.8"/>
<line x1="456.3" y1="216.03" x2="458.3" y2="216.03" stroke="#555" stroke-width="0.8"/>
<line x1="456.3" y1="209.97" x2="458.3" y2="209.97" stroke="#555" stroke-width="0.8"/>
<line x1="455.3" y1="203.9" x2="458.3" y2="203.9" stroke="#555" stroke-width="0.8"/>
<text transform="translate(454.10,294.90) rotate(-90)" font-size="5.6" fill="#444" text-anchor="middle" font-family="Liberation Sans">0</text>
<text transform="translate(454.10,264.57) rotate(-90)" font-size="5.6" fill="#444" text-anchor="middle" font-family="Liberation Sans">100</text>
<text transform="translate(454.10,234.23) rotate(-90)" font-size="5.6" fill="#444" text-anchor="middle" font-family="Liberation Sans">200</text>
<text transform="translate(454.10,203.90) rotate(-90)" font-size="5.6" fill="#444" text-anchor="middle" font-family="Liberation Sans">300</text>
<text transform="translate(446.90,249.40) rotate(-90)" font-size="5.6" fill="#444" text-anchor="middle" textLength="13.7" lengthAdjust="spacingAndGlyphs">Count</text>
<line x1="465.1" y1="294.9" x2="465.1" y2="296.7" stroke="#555" stroke-width="0.7"/>
<line x1="469.07" y1="294.9" x2="469.07" y2="296.7" stroke="#555" stroke-width="0.7"/>
<line x1="471.89" y1="294.9" x2="471.89" y2="296.7" stroke="#555" stroke-width="0.7"/>
<line x1="474.08" y1="294.9" x2="474.08" y2="296.7" stroke="#555" stroke-width="0.7"/>
<line x1="475.87" y1="294.9" x2="475.87" y2="296.7" stroke="#555" stroke-width="0.7"/>
<line x1="477.38" y1="294.9" x2="477.38" y2="296.7" stroke="#555" stroke-width="0.7"/>
<line x1="478.69" y1="294.9" x2="478.69" y2="296.7" stroke="#555" stroke-width="0.7"/>
<line x1="479.84" y1="294.9" x2="479.84" y2="296.7" stroke="#555" stroke-width="0.7"/>
<line x1="487.67" y1="294.9" x2="487.67" y2="296.7" stroke="#555" stroke-width="0.7"/>
<line x1="491.65" y1="294.9" x2="491.65" y2="296.7" stroke="#555" stroke-width="0.7"/>
<line x1="494.47" y1="294.9" x2="494.47" y2="296.7" stroke="#555" stroke-width="0.7"/>
<line x1="496.65" y1="294.9" x2="496.65" y2="296.7" stroke="#555" stroke-width="0.7"/>
<line x1="498.44" y1="294.9" x2="498.44" y2="296.7" stroke="#555" stroke-width="0.7"/>
<line x1="499.95" y1="294.9" x2="499.95" y2="296.7" stroke="#555" stroke-width="0.7"/>
<line x1="501.26" y1="294.9" x2="501.26" y2="296.7" stroke="#555" stroke-width="0.7"/>
<line x1="502.42" y1="294.9" x2="502.42" y2="296.7" stroke="#555" stroke-width="0.7"/>
<line x1="510.25" y1="294.9" x2="510.25" y2="296.7" stroke="#555" stroke-width="0.7"/>
<line x1="514.22" y1="294.9" x2="514.22" y2="296.7" stroke="#555" stroke-width="0.7"/>
<line x1="517.04" y1="294.9" x2="517.04" y2="296.7" stroke="#555" stroke-width="0.7"/>
<line x1="519.23" y1="294.9" x2="519.23" y2="296.7" stroke="#555" stroke-width="0.7"/>
<line x1="521.02" y1="294.9" x2="521.02" y2="296.7" stroke="#555" stroke-width="0.7"/>
<line x1="522.53" y1="294.9" x2="522.53" y2="296.7" stroke="#555" stroke-width="0.7"/>
<line x1="523.84" y1="294.9" x2="523.84" y2="296.7" stroke="#555" stroke-width="0.7"/>
<line x1="524.99" y1="294.9" x2="524.99" y2="296.7" stroke="#555" stroke-width="0.7"/>
<line x1="532.82" y1="294.9" x2="532.82" y2="296.7" stroke="#555" stroke-width="0.7"/>
<line x1="536.8" y1="294.9" x2="536.8" y2="296.7" stroke="#555" stroke-width="0.7"/>
<line x1="539.62" y1="294.9" x2="539.62" y2="296.7" stroke="#555" stroke-width="0.7"/>
<line x1="541.8" y1="294.9" x2="541.8" y2="296.7" stroke="#555" stroke-width="0.7"/>
<line x1="543.59" y1="294.9" x2="543.59" y2="296.7" stroke="#555" stroke-width="0.7"/>
<line x1="545.1" y1="294.9" x2="545.1" y2="296.7" stroke="#555" stroke-width="0.7"/>
<line x1="546.41" y1="294.9" x2="546.41" y2="296.7" stroke="#555" stroke-width="0.7"/>
<line x1="547.57" y1="294.9" x2="547.57" y2="296.7" stroke="#555" stroke-width="0.7"/>
<line x1="458.3" y1="294.9" x2="458.3" y2="297.9" stroke="#555" stroke-width="0.8"/>
<text x="454.3" y="303.2" font-size="5.8" font-weight="normal" fill="#444" text-anchor="start" textLength="5.6" lengthAdjust="spacingAndGlyphs" >10</text>
<text x="460.1" y="300.5" font-size="4.2" font-weight="normal" fill="#444" text-anchor="start" >2</text>
<line x1="480.88" y1="294.9" x2="480.88" y2="297.9" stroke="#555" stroke-width="0.8"/>
<text x="476.88" y="303.2" font-size="5.8" font-weight="normal" fill="#444" text-anchor="start" textLength="5.6" lengthAdjust="spacingAndGlyphs" >10</text>
<text x="482.68" y="300.5" font-size="4.2" font-weight="normal" fill="#444" text-anchor="start" >3</text>
<line x1="503.45" y1="294.9" x2="503.45" y2="297.9" stroke="#555" stroke-width="0.8"/>
<text x="499.45" y="303.2" font-size="5.8" font-weight="normal" fill="#444" text-anchor="start" textLength="5.6" lengthAdjust="spacingAndGlyphs" >10</text>
<text x="505.25" y="300.5" font-size="4.2" font-weight="normal" fill="#444" text-anchor="start" >4</text>
<line x1="526.02" y1="294.9" x2="526.02" y2="297.9" stroke="#555" stroke-width="0.8"/>
<text x="522.02" y="303.2" font-size="5.8" font-weight="normal" fill="#444" text-anchor="start" textLength="5.6" lengthAdjust="spacingAndGlyphs" >10</text>
<text x="527.82" y="300.5" font-size="4.2" font-weight="normal" fill="#444" text-anchor="start" >5</text>
<line x1="548.6" y1="294.9" x2="548.6" y2="297.9" stroke="#555" stroke-width="0.8"/>
<text x="544.6" y="303.2" font-size="5.8" font-weight="normal" fill="#444" text-anchor="start" textLength="5.6" lengthAdjust="spacingAndGlyphs" >10</text>
<text x="550.4" y="300.5" font-size="4.2" font-weight="normal" fill="#444" text-anchor="start" >6</text>
<text x="503.45" y="309.4" font-size="5.6" font-weight="normal" fill="#444" text-anchor="middle" textLength="15.3" lengthAdjust="spacingAndGlyphs" >PC7-A</text>
<text x="498.6" y="202.4" font-size="5.6" font-weight="normal" fill="#333" text-anchor="middle" textLength="52.5" lengthAdjust="spacingAndGlyphs" >MDAN 0.8 DOX 2 : P2</text>
<clipPath id="c458_324"><rect x="458.3" y="322.5" width="90.30000000000001" height="92.89999999999998"/></clipPath>
<clipPath id="c458_324p512"><rect x="0" y="0" width="512.9" height="432"/></clipPath>
<clipPath id="c458_324p512b"><rect x="512.9" y="0" width="300" height="432"/></clipPath>
<g clip-path="url(#c458_324)"><path d="M477.2 415.4 L477.2 414.5 L477.4 414.2 L477.7 414.4 L478.0 414.2 L478.5 413.9 L479.0 413.8 L479.6 413.6 L480.2 413.7 L480.8 413.2 L481.4 412.0 L482.1 412.8 L482.7 412.0 L483.4 411.5 L484.0 410.9 L484.6 411.7 L485.1 411.4 L485.6 411.3 L486.0 410.9 L486.3 410.7 L486.6 409.7 L487.0 409.8 L487.4 409.7 L487.9 411.1 L488.5 411.1 L489.0 409.8 L489.6 409.4 L490.2 410.1 L490.9 409.8 L491.5 410.8 L492.1 410.0 L492.7 409.0 L493.3 409.1 L493.8 409.0 L494.3 408.8 L494.8 410.1 L495.2 410.3 L495.5 410.2 L495.8 409.6 L496.2 409.3 L496.6 408.8 L497.1 409.2 L497.7 409.3 L498.2 409.1 L498.9 409.7 L499.5 409.6 L500.1 410.5 L500.8 409.2 L501.4 410.2 L502.1 409.0 L502.7 409.5 L503.3 410.2 L503.8 410.6 L504.4 410.4 L504.8 409.7 L505.2 409.6 L505.5 410.8 L505.8 410.9 L506.3 410.2 L506.8 410.4 L507.4 411.0 L508.0 411.7 L508.6 411.5 L509.2 412.7 L509.8 412.7 L510.3 412.8 L510.6 412.5 L510.9 413.0 L511.5 413.2 L512.1 414.1 L512.6 414.6 L512.9 414.7 L513.5 410.8 L514.1 408.3 L514.7 406.1 L515.2 404.7 L516.0 400.4 L516.5 397.4 L517.0 395.7 L517.6 392.8 L518.0 388.3 L518.5 381.2 L519.0 378.3 L519.8 368.6 L520.6 356.0 L521.4 348.3 L521.9 348.5 L522.5 353.4 L522.9 347.8 L523.6 345.1 L524.0 345.0 L524.5 349.2 L525.0 348.1 L525.6 359.4 L526.3 364.2 L526.9 373.0 L527.5 378.3 L528.0 381.9 L528.6 389.8 L529.3 392.0 L530.0 398.0 L530.7 402.8 L531.4 406.3 L531.9 408.6 L532.5 410.7 L533.1 411.6 L533.9 414.0 L534.4 414.5 L534.4 415.4 Z" fill="#4753dc" stroke="#2f7cf5" stroke-width="0.7"/><path d="M477.2 415.4 L477.2 414.5 L477.4 414.2 L477.7 414.4 L478.0 414.2 L478.5 413.9 L479.0 413.8 L479.6 413.6 L480.2 413.7 L480.8 413.2 L481.4 412.0 L482.1 412.8 L482.7 412.0 L483.4 411.5 L484.0 410.9 L484.6 411.7 L485.1 411.4 L485.6 411.3 L486.0 410.9 L486.3 410.7 L486.6 409.7 L487.0 409.8 L487.4 409.7 L487.9 411.1 L488.5 411.1 L489.0 409.8 L489.6 409.4 L490.2 410.1 L490.9 409.8 L491.5 410.8 L492.1 410.0 L492.7 409.0 L493.3 409.1 L493.8 409.0 L494.3 408.8 L494.8 410.1 L495.2 410.3 L495.5 410.2 L495.8 409.6 L496.2 409.3 L496.6 408.8 L497.1 409.2 L497.7 409.3 L498.2 409.1 L498.9 409.7 L499.5 409.6 L500.1 410.5 L500.8 409.2 L501.4 410.2 L502.1 409.0 L502.7 409.5 L503.3 410.2 L503.8 410.6 L504.4 410.4 L504.8 409.7 L505.2 409.6 L505.5 410.8 L505.8 410.9 L506.3 410.2 L506.8 410.4 L507.4 411.0 L508.0 411.7 L508.6 411.5 L509.2 412.7 L509.8 412.7 L510.3 412.8 L510.6 412.5 L510.9 413.0 L511.5 413.2 L512.1 414.1 L512.6 414.6 L512.9 414.7 L513.5 410.8 L514.1 408.3 L514.7 406.1 L515.2 404.7 L516.0 400.4 L516.5 397.4 L517.0 395.7 L517.6 392.8 L518.0 388.3 L518.5 381.2 L519.0 378.3 L519.8 368.6 L520.6 356.0 L521.4 348.3 L521.9 348.5 L522.5 353.4 L522.9 347.8 L523.6 345.1 L524.0 345.0 L524.5 349.2 L525.0 348.1 L525.6 359.4 L526.3 364.2 L526.9 373.0 L527.5 378.3 L528.0 381.9 L528.6 389.8 L529.3 392.0 L530.0 398.0 L530.7 402.8 L531.4 406.3 L531.9 408.6 L532.5 410.7 L533.1 411.6 L533.9 414.0 L534.4 414.5 L534.4 415.4 Z" fill="#7c3fc0" stroke="#2323ee" stroke-width="0.8" clip-path="url(#c458_324p512)"/></g>
<line x1="458.3" y1="324.5" x2="548.6" y2="324.5" stroke="#b4b4b4" stroke-width="1.1"/>
<line x1="548.6" y1="324.5" x2="548.6" y2="415.4" stroke="#b4b4b4" stroke-width="1.1"/>
<line x1="458.3" y1="324" x2="458.3" y2="415.9" stroke="#a8a8a8" stroke-width="1.2"/>
<line x1="458.3" y1="415.4" x2="548.6" y2="415.4" stroke="#a8a8a8" stroke-width="1.2"/>
<line x1="455.3" y1="415.4" x2="458.3" y2="415.4" stroke="#555" stroke-width="0.8"/>
<line x1="456.3" y1="409.34" x2="458.3" y2="409.34" stroke="#555" stroke-width="0.8"/>
<line x1="456.3" y1="403.28" x2="458.3" y2="403.28" stroke="#555" stroke-width="0.8"/>
<line x1="456.3" y1="397.22" x2="458.3" y2="397.22" stroke="#555" stroke-width="0.8"/>
<line x1="456.3" y1="391.16" x2="458.3" y2="391.16" stroke="#555" stroke-width="0.8"/>
<line x1="455.3" y1="385.1" x2="458.3" y2="385.1" stroke="#555" stroke-width="0.8"/>
<line x1="456.3" y1="379.04" x2="458.3" y2="379.04" stroke="#555" stroke-width="0.8"/>
<line x1="456.3" y1="372.98" x2="458.3" y2="372.98" stroke="#555" stroke-width="0.8"/>
<line x1="456.3" y1="366.92" x2="458.3" y2="366.92" stroke="#555" stroke-width="0.8"/>
<line x1="456.3" y1="360.86" x2="458.3" y2="360.86" stroke="#555" stroke-width="0.8"/>
<line x1="455.3" y1="354.8" x2="458.3" y2="354.8" stroke="#555" stroke-width="0.8"/>
<line x1="456.3" y1="348.74" x2="458.3" y2="348.74" stroke="#555" stroke-width="0.8"/>
<line x1="456.3" y1="342.68" x2="458.3" y2="342.68" stroke="#555" stroke-width="0.8"/>
<line x1="456.3" y1="336.62" x2="458.3" y2="336.62" stroke="#555" stroke-width="0.8"/>
<line x1="456.3" y1="330.56" x2="458.3" y2="330.56" stroke="#555" stroke-width="0.8"/>
<line x1="455.3" y1="324.5" x2="458.3" y2="324.5" stroke="#555" stroke-width="0.8"/>
<text transform="translate(454.10,415.40) rotate(-90)" font-size="5.6" fill="#444" text-anchor="middle" font-family="Liberation Sans">0</text>
<text transform="translate(454.10,385.10) rotate(-90)" font-size="5.6" fill="#444" text-anchor="middle" font-family="Liberation Sans">100</text>
<text transform="translate(454.10,354.80) rotate(-90)" font-size="5.6" fill="#444" text-anchor="middle" font-family="Liberation Sans">200</text>
<text transform="translate(454.10,324.50) rotate(-90)" font-size="5.6" fill="#444" text-anchor="middle" font-family="Liberation Sans">300</text>
<text transform="translate(446.90,369.95) rotate(-90)" font-size="5.6" fill="#444" text-anchor="middle" textLength="13.7" lengthAdjust="spacingAndGlyphs">Count</text>
<line x1="465.1" y1="415.4" x2="465.1" y2="417.2" stroke="#555" stroke-width="0.7"/>
<line x1="469.07" y1="415.4" x2="469.07" y2="417.2" stroke="#555" stroke-width="0.7"/>
<line x1="471.89" y1="415.4" x2="471.89" y2="417.2" stroke="#555" stroke-width="0.7"/>
<line x1="474.08" y1="415.4" x2="474.08" y2="417.2" stroke="#555" stroke-width="0.7"/>
<line x1="475.87" y1="415.4" x2="475.87" y2="417.2" stroke="#555" stroke-width="0.7"/>
<line x1="477.38" y1="415.4" x2="477.38" y2="417.2" stroke="#555" stroke-width="0.7"/>
<line x1="478.69" y1="415.4" x2="478.69" y2="417.2" stroke="#555" stroke-width="0.7"/>
<line x1="479.84" y1="415.4" x2="479.84" y2="417.2" stroke="#555" stroke-width="0.7"/>
<line x1="487.67" y1="415.4" x2="487.67" y2="417.2" stroke="#555" stroke-width="0.7"/>
<line x1="491.65" y1="415.4" x2="491.65" y2="417.2" stroke="#555" stroke-width="0.7"/>
<line x1="494.47" y1="415.4" x2="494.47" y2="417.2" stroke="#555" stroke-width="0.7"/>
<line x1="496.65" y1="415.4" x2="496.65" y2="417.2" stroke="#555" stroke-width="0.7"/>
<line x1="498.44" y1="415.4" x2="498.44" y2="417.2" stroke="#555" stroke-width="0.7"/>
<line x1="499.95" y1="415.4" x2="499.95" y2="417.2" stroke="#555" stroke-width="0.7"/>
<line x1="501.26" y1="415.4" x2="501.26" y2="417.2" stroke="#555" stroke-width="0.7"/>
<line x1="502.42" y1="415.4" x2="502.42" y2="417.2" stroke="#555" stroke-width="0.7"/>
<line x1="510.25" y1="415.4" x2="510.25" y2="417.2" stroke="#555" stroke-width="0.7"/>
<line x1="514.22" y1="415.4" x2="514.22" y2="417.2" stroke="#555" stroke-width="0.7"/>
<line x1="517.04" y1="415.4" x2="517.04" y2="417.2" stroke="#555" stroke-width="0.7"/>
<line x1="519.23" y1="415.4" x2="519.23" y2="417.2" stroke="#555" stroke-width="0.7"/>
<line x1="521.02" y1="415.4" x2="521.02" y2="417.2" stroke="#555" stroke-width="0.7"/>
<line x1="522.53" y1="415.4" x2="522.53" y2="417.2" stroke="#555" stroke-width="0.7"/>
<line x1="523.84" y1="415.4" x2="523.84" y2="417.2" stroke="#555" stroke-width="0.7"/>
<line x1="524.99" y1="415.4" x2="524.99" y2="417.2" stroke="#555" stroke-width="0.7"/>
<line x1="532.82" y1="415.4" x2="532.82" y2="417.2" stroke="#555" stroke-width="0.7"/>
<line x1="536.8" y1="415.4" x2="536.8" y2="417.2" stroke="#555" stroke-width="0.7"/>
<line x1="539.62" y1="415.4" x2="539.62" y2="417.2" stroke="#555" stroke-width="0.7"/>
<line x1="541.8" y1="415.4" x2="541.8" y2="417.2" stroke="#555" stroke-width="0.7"/>
<line x1="543.59" y1="415.4" x2="543.59" y2="417.2" stroke="#555" stroke-width="0.7"/>
<line x1="545.1" y1="415.4" x2="545.1" y2="417.2" stroke="#555" stroke-width="0.7"/>
<line x1="546.41" y1="415.4" x2="546.41" y2="417.2" stroke="#555" stroke-width="0.7"/>
<line x1="547.57" y1="415.4" x2="547.57" y2="417.2" stroke="#555" stroke-width="0.7"/>
<line x1="458.3" y1="415.4" x2="458.3" y2="418.4" stroke="#555" stroke-width="0.8"/>
<text x="454.3" y="423.7" font-size="5.8" font-weight="normal" fill="#444" text-anchor="start" textLength="5.6" lengthAdjust="spacingAndGlyphs" >10</text>
<text x="460.1" y="421" font-size="4.2" font-weight="normal" fill="#444" text-anchor="start" >2</text>
<line x1="480.88" y1="415.4" x2="480.88" y2="418.4" stroke="#555" stroke-width="0.8"/>
<text x="476.88" y="423.7" font-size="5.8" font-weight="normal" fill="#444" text-anchor="start" textLength="5.6" lengthAdjust="spacingAndGlyphs" >10</text>
<text x="482.68" y="421" font-size="4.2" font-weight="normal" fill="#444" text-anchor="start" >3</text>
<line x1="503.45" y1="415.4" x2="503.45" y2="418.4" stroke="#555" stroke-width="0.8"/>
<text x="499.45" y="423.7" font-size="5.8" font-weight="normal" fill="#444" text-anchor="start" textLength="5.6" lengthAdjust="spacingAndGlyphs" >10</text>
<text x="505.25" y="421" font-size="4.2" font-weight="normal" fill="#444" text-anchor="start" >4</text>
<line x1="526.02" y1="415.4" x2="526.02" y2="418.4" stroke="#555" stroke-width="0.8"/>
<text x="522.02" y="423.7" font-size="5.8" font-weight="normal" fill="#444" text-anchor="start" textLength="5.6" lengthAdjust="spacingAndGlyphs" >10</text>
<text x="527.82" y="421" font-size="4.2" font-weight="normal" fill="#444" text-anchor="start" >5</text>
<line x1="548.6" y1="415.4" x2="548.6" y2="418.4" stroke="#555" stroke-width="0.8"/>
<text x="544.6" y="423.7" font-size="5.8" font-weight="normal" fill="#444" text-anchor="start" textLength="5.6" lengthAdjust="spacingAndGlyphs" >10</text>
<text x="550.4" y="421" font-size="4.2" font-weight="normal" fill="#444" text-anchor="start" >6</text>
<text x="503.45" y="429.9" font-size="5.6" font-weight="normal" fill="#444" text-anchor="middle" textLength="15.3" lengthAdjust="spacingAndGlyphs" >PC7-A</text>
<text x="498.6" y="323" font-size="5.6" font-weight="normal" fill="#333" text-anchor="middle" textLength="52.5" lengthAdjust="spacingAndGlyphs" >MDAR 0.8 DOX 2 : P2</text>
<clipPath id="c588_203"><rect x="588.5" y="201.9" width="90.89999999999998" height="92.99999999999997"/></clipPath>
<clipPath id="c588_203p642"><rect x="0" y="0" width="642.6" height="432"/></clipPath>
<clipPath id="c588_203p642b"><rect x="642.6" y="0" width="300" height="432"/></clipPath>
<g clip-path="url(#c588_203)"><path d="M608.1 294.9 L608.1 294.5 L608.3 294.5 L608.7 294.5 L609.1 293.7 L609.7 294.2 L610.3 294.2 L611.0 293.9 L611.7 293.3 L612.4 292.2 L613.1 292.0 L613.7 291.9 L614.2 291.2 L614.7 291.1 L615.0 292.0 L615.4 292.1 L615.8 290.3 L616.4 290.3 L617.0 291.4 L617.6 289.5 L618.3 289.7 L618.9 289.3 L619.5 289.0 L620.0 289.0 L620.5 289.2 L620.8 288.2 L621.2 287.8 L621.6 285.9 L622.2 288.0 L622.8 285.2 L623.5 287.1 L624.2 286.4 L624.8 284.6 L625.4 284.3 L625.9 285.3 L626.3 286.3 L626.6 284.8 L627.2 284.7 L627.8 282.3 L628.4 284.1 L628.9 282.9 L629.3 280.0 L630.0 281.8 L630.7 278.5 L631.3 275.2 L631.8 274.3 L632.3 276.8 L632.9 275.9 L633.6 274.8 L634.2 269.6 L634.7 272.0 L635.2 268.3 L635.8 265.5 L636.5 266.3 L637.2 264.9 L637.6 260.1 L638.2 262.4 L638.9 265.7 L639.4 263.8 L639.9 265.2 L640.5 263.7 L641.2 263.8 L641.7 258.9 L642.2 259.5 L642.9 264.1 L643.5 265.7 L644.0 272.7 L644.5 273.7 L645.1 275.4 L645.8 276.2 L646.3 278.3 L646.6 281.4 L647.1 283.1 L647.7 283.9 L648.3 285.1 L648.9 285.1 L649.4 288.4 L649.8 287.4 L650.3 288.4 L650.9 289.2 L651.6 290.3 L652.2 291.3 L652.7 292.0 L653.0 291.8 L653.5 291.3 L654.1 289.8 L654.7 290.6 L655.3 289.6 L655.9 287.4 L656.4 288.2 L656.7 288.2 L657.1 287.8 L657.6 285.5 L658.2 285.2 L658.8 282.0 L659.4 281.3 L659.9 280.1 L660.2 282.2 L660.7 282.1 L661.3 280.9 L662.0 278.0 L662.6 276.1 L663.1 276.8 L663.4 278.0 L663.9 277.7 L664.5 277.6 L665.2 278.2 L665.8 278.9 L666.3 279.3 L666.6 280.7 L667.1 283.8 L667.7 283.2 L668.4 287.0 L669.0 288.0 L669.4 289.7 L670.0 290.7 L670.6 293.6 L671.0 294.5 L671.0 294.9 Z" fill="#4753dc" stroke="#2f7cf5" stroke-width="0.7"/><path d="M608.1 294.9 L608.1 294.5 L608.3 294.5 L608.7 294.5 L609.1 293.7 L609.7 294.2 L610.3 294.2 L611.0 293.9 L611.7 293.3 L612.4 292.2 L613.1 292.0 L613.7 291.9 L614.2 291.2 L614.7 291.1 L615.0 292.0 L615.4 292.1 L615.8 290.3 L616.4 290.3 L617.0 291.4 L617.6 289.5 L618.3 289.7 L618.9 289.3 L619.5 289.0 L620.0 289.0 L620.5 289.2 L620.8 288.2 L621.2 287.8 L621.6 285.9 L622.2 288.0 L622.8 285.2 L623.5 287.1 L624.2 286.4 L624.8 284.6 L625.4 284.3 L625.9 285.3 L626.3 286.3 L626.6 284.8 L627.2 284.7 L627.8 282.3 L628.4 284.1 L628.9 282.9 L629.3 280.0 L630.0 281.8 L630.7 278.5 L631.3 275.2 L631.8 274.3 L632.3 276.8 L632.9 275.9 L633.6 274.8 L634.2 269.6 L634.7 272.0 L635.2 268.3 L635.8 265.5 L636.5 266.3 L637.2 264.9 L637.6 260.1 L638.2 262.4 L638.9 265.7 L639.4 263.8 L639.9 265.2 L640.5 263.7 L641.2 263.8 L641.7 258.9 L642.2 259.5 L642.9 264.1 L643.5 265.7 L644.0 272.7 L644.5 273.7 L645.1 275.4 L645.8 276.2 L646.3 278.3 L646.6 281.4 L647.1 283.1 L647.7 283.9 L648.3 285.1 L648.9 285.1 L649.4 288.4 L649.8 287.4 L650.3 288.4 L650.9 289.2 L651.6 290.3 L652.2 291.3 L652.7 292.0 L653.0 291.8 L653.5 291.3 L654.1 289.8 L654.7 290.6 L655.3 289.6 L655.9 287.4 L656.4 288.2 L656.7 288.2 L657.1 287.8 L657.6 285.5 L658.2 285.2 L658.8 282.0 L659.4 281.3 L659.9 280.1 L660.2 282.2 L660.7 282.1 L661.3 280.9 L662.0 278.0 L662.6 276.1 L663.1 276.8 L663.4 278.0 L663.9 277.7 L664.5 277.6 L665.2 278.2 L665.8 278.9 L666.3 279.3 L666.6 280.7 L667.1 283.8 L667.7 283.2 L668.4 287.0 L669.0 288.0 L669.4 289.7 L670.0 290.7 L670.6 293.6 L671.0 294.5 L671.0 294.9 Z" fill="#7c3fc0" stroke="#2323ee" stroke-width="0.8" clip-path="url(#c588_203p642)"/></g>
<line x1="588.5" y1="203.9" x2="679.4" y2="203.9" stroke="#b4b4b4" stroke-width="1.1"/>
<line x1="679.4" y1="203.9" x2="679.4" y2="294.9" stroke="#b4b4b4" stroke-width="1.1"/>
<line x1="588.5" y1="203.4" x2="588.5" y2="295.4" stroke="#a8a8a8" stroke-width="1.2"/>
<line x1="588.5" y1="294.9" x2="679.4" y2="294.9" stroke="#a8a8a8" stroke-width="1.2"/>
<line x1="585.5" y1="294.9" x2="588.5" y2="294.9" stroke="#555" stroke-width="0.8"/>
<line x1="586.5" y1="288.83" x2="588.5" y2="288.83" stroke="#555" stroke-width="0.8"/>
<line x1="586.5" y1="282.77" x2="588.5" y2="282.77" stroke="#555" stroke-width="0.8"/>
<line x1="586.5" y1="276.7" x2="588.5" y2="276.7" stroke="#555" stroke-width="0.8"/>
<line x1="586.5" y1="270.63" x2="588.5" y2="270.63" stroke="#555" stroke-width="0.8"/>
<line x1="585.5" y1="264.57" x2="588.5" y2="264.57" stroke="#555" stroke-width="0.8"/>
<line x1="586.5" y1="258.5" x2="588.5" y2="258.5" stroke="#555" stroke-width="0.8"/>
<line x1="586.5" y1="252.43" x2="588.5" y2="252.43" stroke="#555" stroke-width="0.8"/>
<line x1="586.5" y1="246.37" x2="588.5" y2="246.37" stroke="#555" stroke-width="0.8"/>
<line x1="586.5" y1="240.3" x2="588.5" y2="240.3" stroke="#555" stroke-width="0.8"/>
<line x1="585.5" y1="234.23" x2="588.5" y2="234.23" stroke="#555" stroke-width="0.8"/>
<line x1="586.5" y1="228.17" x2="588.5" y2="228.17" stroke="#555" stroke-width="0.8"/>
<line x1="586.5" y1="222.1" x2="588.5" y2="222.1" stroke="#555" stroke-width="0.8"/>
<line x1="586.5" y1="216.03" x2="588.5" y2="216.03" stroke="#555" stroke-width="0.8"/>
<line x1="586.5" y1="209.97" x2="588.5" y2="209.97" stroke="#555" stroke-width="0.8"/>
<line x1="585.5" y1="203.9" x2="588.5" y2="203.9" stroke="#555" stroke-width="0.8"/>
<text transform="translate(584.30,294.90) rotate(-90)" font-size="5.6" fill="#444" text-anchor="middle" font-family="Liberation Sans">0</text>
<text transform="translate(584.30,264.57) rotate(-90)" font-size="5.6" fill="#444" text-anchor="middle" font-family="Liberation Sans">100</text>
<text transform="translate(584.30,234.23) rotate(-90)" font-size="5.6" fill="#444" text-anchor="middle" font-family="Liberation Sans">200</text>
<text transform="translate(584.30,203.90) rotate(-90)" font-size="5.6" fill="#444" text-anchor="middle" font-family="Liberation Sans">300</text>
<text transform="translate(577.10,249.40) rotate(-90)" font-size="5.6" fill="#444" text-anchor="middle" textLength="13.7" lengthAdjust="spacingAndGlyphs">Count</text>
<line x1="595.34" y1="294.9" x2="595.34" y2="296.7" stroke="#555" stroke-width="0.7"/>
<line x1="599.34" y1="294.9" x2="599.34" y2="296.7" stroke="#555" stroke-width="0.7"/>
<line x1="602.18" y1="294.9" x2="602.18" y2="296.7" stroke="#555" stroke-width="0.7"/>
<line x1="604.38" y1="294.9" x2="604.38" y2="296.7" stroke="#555" stroke-width="0.7"/>
<line x1="606.18" y1="294.9" x2="606.18" y2="296.7" stroke="#555" stroke-width="0.7"/>
<line x1="607.7" y1="294.9" x2="607.7" y2="296.7" stroke="#555" stroke-width="0.7"/>
<line x1="609.02" y1="294.9" x2="609.02" y2="296.7" stroke="#555" stroke-width="0.7"/>
<line x1="610.19" y1="294.9" x2="610.19" y2="296.7" stroke="#555" stroke-width="0.7"/>
<line x1="618.07" y1="294.9" x2="618.07" y2="296.7" stroke="#555" stroke-width="0.7"/>
<line x1="622.07" y1="294.9" x2="622.07" y2="296.7" stroke="#555" stroke-width="0.7"/>
<line x1="624.91" y1="294.9" x2="624.91" y2="296.7" stroke="#555" stroke-width="0.7"/>
<line x1="627.11" y1="294.9" x2="627.11" y2="296.7" stroke="#555" stroke-width="0.7"/>
<line x1="628.91" y1="294.9" x2="628.91" y2="296.7" stroke="#555" stroke-width="0.7"/>
<line x1="630.43" y1="294.9" x2="630.43" y2="296.7" stroke="#555" stroke-width="0.7"/>
<line x1="631.75" y1="294.9" x2="631.75" y2="296.7" stroke="#555" stroke-width="0.7"/>
<line x1="632.91" y1="294.9" x2="632.91" y2="296.7" stroke="#555" stroke-width="0.7"/>
<line x1="640.79" y1="294.9" x2="640.79" y2="296.7" stroke="#555" stroke-width="0.7"/>
<line x1="644.79" y1="294.9" x2="644.79" y2="296.7" stroke="#555" stroke-width="0.7"/>
<line x1="647.63" y1="294.9" x2="647.63" y2="296.7" stroke="#555" stroke-width="0.7"/>
<line x1="649.83" y1="294.9" x2="649.83" y2="296.7" stroke="#555" stroke-width="0.7"/>
<line x1="651.63" y1="294.9" x2="651.63" y2="296.7" stroke="#555" stroke-width="0.7"/>
<line x1="653.15" y1="294.9" x2="653.15" y2="296.7" stroke="#555" stroke-width="0.7"/>
<line x1="654.47" y1="294.9" x2="654.47" y2="296.7" stroke="#555" stroke-width="0.7"/>
<line x1="655.64" y1="294.9" x2="655.64" y2="296.7" stroke="#555" stroke-width="0.7"/>
<line x1="663.52" y1="294.9" x2="663.52" y2="296.7" stroke="#555" stroke-width="0.7"/>
<line x1="667.52" y1="294.9" x2="667.52" y2="296.7" stroke="#555" stroke-width="0.7"/>
<line x1="670.36" y1="294.9" x2="670.36" y2="296.7" stroke="#555" stroke-width="0.7"/>
<line x1="672.56" y1="294.9" x2="672.56" y2="296.7" stroke="#555" stroke-width="0.7"/>
<line x1="674.36" y1="294.9" x2="674.36" y2="296.7" stroke="#555" stroke-width="0.7"/>
<line x1="675.88" y1="294.9" x2="675.88" y2="296.7" stroke="#555" stroke-width="0.7"/>
<line x1="677.2" y1="294.9" x2="677.2" y2="296.7" stroke="#555" stroke-width="0.7"/>
<line x1="678.36" y1="294.9" x2="678.36" y2="296.7" stroke="#555" stroke-width="0.7"/>
<line x1="588.5" y1="294.9" x2="588.5" y2="297.9" stroke="#555" stroke-width="0.8"/>
<text x="584.5" y="303.2" font-size="5.8" font-weight="normal" fill="#444" text-anchor="start" textLength="5.6" lengthAdjust="spacingAndGlyphs" >10</text>
<text x="590.3" y="300.5" font-size="4.2" font-weight="normal" fill="#444" text-anchor="start" >2</text>
<line x1="611.23" y1="294.9" x2="611.23" y2="297.9" stroke="#555" stroke-width="0.8"/>
<text x="607.23" y="303.2" font-size="5.8" font-weight="normal" fill="#444" text-anchor="start" textLength="5.6" lengthAdjust="spacingAndGlyphs" >10</text>
<text x="613.02" y="300.5" font-size="4.2" font-weight="normal" fill="#444" text-anchor="start" >3</text>
<line x1="633.95" y1="294.9" x2="633.95" y2="297.9" stroke="#555" stroke-width="0.8"/>
<text x="629.95" y="303.2" font-size="5.8" font-weight="normal" fill="#444" text-anchor="start" textLength="5.6" lengthAdjust="spacingAndGlyphs" >10</text>
<text x="635.75" y="300.5" font-size="4.2" font-weight="normal" fill="#444" text-anchor="start" >4</text>
<line x1="656.67" y1="294.9" x2="656.67" y2="297.9" stroke="#555" stroke-width="0.8"/>
<text x="652.67" y="303.2" font-size="5.8" font-weight="normal" fill="#444" text-anchor="start" textLength="5.6" lengthAdjust="spacingAndGlyphs" >10</text>
<text x="658.47" y="300.5" font-size="4.2" font-weight="normal" fill="#444" text-anchor="start" >5</text>
<line x1="679.4" y1="294.9" x2="679.4" y2="297.9" stroke="#555" stroke-width="0.8"/>
<text x="675.4" y="303.2" font-size="5.8" font-weight="normal" fill="#444" text-anchor="start" textLength="5.6" lengthAdjust="spacingAndGlyphs" >10</text>
<text x="681.2" y="300.5" font-size="4.2" font-weight="normal" fill="#444" text-anchor="start" >6</text>
<text x="633.95" y="309.4" font-size="5.6" font-weight="normal" fill="#444" text-anchor="middle" textLength="15.3" lengthAdjust="spacingAndGlyphs" >PC7-A</text>
<text x="628.8" y="202.4" font-size="5.6" font-weight="normal" fill="#333" text-anchor="middle" textLength="52.5" lengthAdjust="spacingAndGlyphs" >MDAN 1.6 DOX 2 : P2</text>
<clipPath id="c588_324"><rect x="588.5" y="322.5" width="90.89999999999998" height="92.89999999999998"/></clipPath>
<clipPath id="c588_324p643"><rect x="0" y="0" width="643.0" height="432"/></clipPath>
<clipPath id="c588_324p643b"><rect x="643.0" y="0" width="300" height="432"/></clipPath>
<g clip-path="url(#c588_324)"><path d="M608.3 415.4 L608.3 414.5 L608.5 414.6 L608.8 414.4 L609.2 414.3 L609.7 413.3 L610.2 413.3 L610.8 413.2 L611.4 412.8 L612.1 411.5 L612.7 411.8 L613.4 411.9 L614.1 410.5 L614.7 410.4 L615.3 409.4 L615.9 410.8 L616.4 409.8 L616.8 408.9 L617.2 408.7 L617.4 408.4 L618.0 410.3 L618.6 410.2 L619.3 411.1 L619.9 411.5 L620.4 410.5 L620.8 411.3 L621.1 410.4 L621.6 410.9 L622.2 409.2 L622.8 409.3 L623.5 408.9 L624.1 406.9 L624.6 405.8 L625.0 407.5 L625.4 405.9 L625.9 405.4 L626.5 406.0 L627.1 405.1 L627.8 405.2 L628.4 404.5 L629.0 403.9 L629.5 402.4 L629.9 401.9 L630.3 402.9 L630.8 402.8 L631.4 401.1 L632.1 399.1 L632.7 400.0 L633.3 398.9 L633.7 398.8 L634.0 396.5 L634.8 399.0 L635.4 402.4 L636.1 400.7 L636.8 398.2 L637.2 398.1 L637.8 398.9 L638.5 402.0 L639.1 403.1 L639.6 402.4 L640.0 404.2 L640.6 405.9 L641.3 407.5 L641.9 407.6 L642.5 410.3 L643.0 410.6 L643.3 411.3 L643.8 411.4 L644.4 410.9 L645.1 410.9 L645.7 412.1 L646.3 412.5 L646.8 411.7 L647.2 412.5 L647.6 412.6 L648.1 411.0 L648.7 411.4 L649.3 410.2 L650.0 410.5 L650.6 409.0 L651.1 409.3 L651.4 409.3 L651.9 408.0 L652.5 403.8 L653.2 400.0 L653.8 395.7 L654.2 396.3 L654.6 391.1 L655.3 387.3 L655.9 381.4 L656.5 378.8 L656.9 375.7 L657.6 374.5 L658.3 373.8 L658.7 377.5 L659.3 374.4 L660.0 371.7 L660.4 370.4 L660.8 375.2 L661.5 376.8 L662.1 374.1 L662.5 375.6 L662.9 381.1 L663.6 388.1 L664.2 389.4 L664.6 395.1 L665.0 396.4 L665.6 401.7 L666.2 405.2 L666.7 409.3 L667.1 409.3 L667.8 411.8 L668.5 412.8 L669.1 413.5 L669.4 414.5 L669.4 415.4 Z" fill="#4753dc" stroke="#2f7cf5" stroke-width="0.7"/><path d="M608.3 415.4 L608.3 414.5 L608.5 414.6 L608.8 414.4 L609.2 414.3 L609.7 413.3 L610.2 413.3 L610.8 413.2 L611.4 412.8 L612.1 411.5 L612.7 411.8 L613.4 411.9 L614.1 410.5 L614.7 410.4 L615.3 409.4 L615.9 410.8 L616.4 409.8 L616.8 408.9 L617.2 408.7 L617.4 408.4 L618.0 410.3 L618.6 410.2 L619.3 411.1 L619.9 411.5 L620.4 410.5 L620.8 411.3 L621.1 410.4 L621.6 410.9 L622.2 409.2 L622.8 409.3 L623.5 408.9 L624.1 406.9 L624.6 405.8 L625.0 407.5 L625.4 405.9 L625.9 405.4 L626.5 406.0 L627.1 405.1 L627.8 405.2 L628.4 404.5 L629.0 403.9 L629.5 402.4 L629.9 401.9 L630.3 402.9 L630.8 402.8 L631.4 401.1 L632.1 399.1 L632.7 400.0 L633.3 398.9 L633.7 398.8 L634.0 396.5 L634.8 399.0 L635.4 402.4 L636.1 400.7 L636.8 398.2 L637.2 398.1 L637.8 398.9 L638.5 402.0 L639.1 403.1 L639.6 402.4 L640.0 404.2 L640.6 405.9 L641.3 407.5 L641.9 407.6 L642.5 410.3 L643.0 410.6 L643.3 411.3 L643.8 411.4 L644.4 410.9 L645.1 410.9 L645.7 412.1 L646.3 412.5 L646.8 411.7 L647.2 412.5 L647.6 412.6 L648.1 411.0 L648.7 411.4 L649.3 410.2 L650.0 410.5 L650.6 409.0 L651.1 409.3 L651.4 409.3 L651.9 408.0 L652.5 403.8 L653.2 400.0 L653.8 395.7 L654.2 396.3 L654.6 391.1 L655.3 387.3 L655.9 381.4 L656.5 378.8 L656.9 375.7 L657.6 374.5 L658.3 373.8 L658.7 377.5 L659.3 374.4 L660.0 371.7 L660.4 370.4 L660.8 375.2 L661.5 376.8 L662.1 374.1 L662.5 375.6 L662.9 381.1 L663.6 388.1 L664.2 389.4 L664.6 395.1 L665.0 396.4 L665.6 401.7 L666.2 405.2 L666.7 409.3 L667.1 409.3 L667.8 411.8 L668.5 412.8 L669.1 413.5 L669.4 414.5 L669.4 415.4 Z" fill="#7c3fc0" stroke="#2323ee" stroke-width="0.8" clip-path="url(#c588_324p643)"/></g>
<line x1="588.5" y1="324.5" x2="679.4" y2="324.5" stroke="#b4b4b4" stroke-width="1.1"/>
<line x1="679.4" y1="324.5" x2="679.4" y2="415.4" stroke="#b4b4b4" stroke-width="1.1"/>
<line x1="588.5" y1="324" x2="588.5" y2="415.9" stroke="#a8a8a8" stroke-width="1.2"/>
<line x1="588.5" y1="415.4" x2="679.4" y2="415.4" stroke="#a8a8a8" stroke-width="1.2"/>
<line x1="585.5" y1="415.4" x2="588.5" y2="415.4" stroke="#555" stroke-width="0.8"/>
<line x1="586.5" y1="409.34" x2="588.5" y2="409.34" stroke="#555" stroke-width="0.8"/>
<line x1="586.5" y1="403.28" x2="588.5" y2="403.28" stroke="#555" stroke-width="0.8"/>
<line x1="586.5" y1="397.22" x2="588.5" y2="397.22" stroke="#555" stroke-width="0.8"/>
<line x1="586.5" y1="391.16" x2="588.5" y2="391.16" stroke="#555" stroke-width="0.8"/>
<line x1="585.5" y1="385.1" x2="588.5" y2="385.1" stroke="#555" stroke-width="0.8"/>
<line x1="586.5" y1="379.04" x2="588.5" y2="379.04" stroke="#555" stroke-width="0.8"/>
<line x1="586.5" y1="372.98" x2="588.5" y2="372.98" stroke="#555" stroke-width="0.8"/>
<line x1="586.5" y1="366.92" x2="588.5" y2="366.92" stroke="#555" stroke-width="0.8"/>
<line x1="586.5" y1="360.86" x2="588.5" y2="360.86" stroke="#555" stroke-width="0.8"/>
<line x1="585.5" y1="354.8" x2="588.5" y2="354.8" stroke="#555" stroke-width="0.8"/>
<line x1="586.5" y1="348.74" x2="588.5" y2="348.74" stroke="#555" stroke-width="0.8"/>
<line x1="586.5" y1="342.68" x2="588.5" y2="342.68" stroke="#555" stroke-width="0.8"/>
<line x1="586.5" y1="336.62" x2="588.5" y2="336.62" stroke="#555" stroke-width="0.8"/>
<line x1="586.5" y1="330.56" x2="588.5" y2="330.56" stroke="#555" stroke-width="0.8"/>
<line x1="585.5" y1="324.5" x2="588.5" y2="324.5" stroke="#555" stroke-width="0.8"/>
<text transform="translate(584.30,415.40) rotate(-90)" font-size="5.6" fill="#444" text-anchor="middle" font-family="Liberation Sans">0</text>
<text transform="translate(584.30,385.10) rotate(-90)" font-size="5.6" fill="#444" text-anchor="middle" font-family="Liberation Sans">100</text>
<text transform="translate(584.30,354.80) rotate(-90)" font-size="5.6" fill="#444" text-anchor="middle" font-family="Liberation Sans">200</text>
<text transform="translate(584.30,324.50) rotate(-90)" font-size="5.6" fill="#444" text-anchor="middle" font-family="Liberation Sans">300</text>
<text transform="translate(577.10,369.95) rotate(-90)" font-size="5.6" fill="#444" text-anchor="middle" textLength="13.7" lengthAdjust="spacingAndGlyphs">Count</text>
<line x1="595.34" y1="415.4" x2="595.34" y2="417.2" stroke="#555" stroke-width="0.7"/>
<line x1="599.34" y1="415.4" x2="599.34" y2="417.2" stroke="#555" stroke-width="0.7"/>
<line x1="602.18" y1="415.4" x2="602.18" y2="417.2" stroke="#555" stroke-width="0.7"/>
<line x1="604.38" y1="415.4" x2="604.38" y2="417.2" stroke="#555" stroke-width="0.7"/>
<line x1="606.18" y1="415.4" x2="606.18" y2="417.2" stroke="#555" stroke-width="0.7"/>
<line x1="607.7" y1="415.4" x2="607.7" y2="417.2" stroke="#555" stroke-width="0.7"/>
<line x1="609.02" y1="415.4" x2="609.02" y2="417.2" stroke="#555" stroke-width="0.7"/>
<line x1="610.19" y1="415.4" x2="610.19" y2="417.2" stroke="#555" stroke-width="0.7"/>
<line x1="618.07" y1="415.4" x2="618.07" y2="417.2" stroke="#555" stroke-width="0.7"/>
<line x1="622.07" y1="415.4" x2="622.07" y2="417.2" stroke="#555" stroke-width="0.7"/>
<line x1="624.91" y1="415.4" x2="624.91" y2="417.2" stroke="#555" stroke-width="0.7"/>
<line x1="627.11" y1="415.4" x2="627.11" y2="417.2" stroke="#555" stroke-width="0.7"/>
<line x1="628.91" y1="415.4" x2="628.91" y2="417.2" stroke="#555" stroke-width="0.7"/>
<line x1="630.43" y1="415.4" x2="630.43" y2="417.2" stroke="#555" stroke-width="0.7"/>
<line x1="631.75" y1="415.4" x2="631.75" y2="417.2" stroke="#555" stroke-width="0.7"/>
<line x1="632.91" y1="415.4" x2="632.91" y2="417.2" stroke="#555" stroke-width="0.7"/>
<line x1="640.79" y1="415.4" x2="640.79" y2="417.2" stroke="#555" stroke-width="0.7"/>
<line x1="644.79" y1="415.4" x2="644.79" y2="417.2" stroke="#555" stroke-width="0.7"/>
<line x1="647.63" y1="415.4" x2="647.63" y2="417.2" stroke="#555" stroke-width="0.7"/>
<line x1="649.83" y1="415.4" x2="649.83" y2="417.2" stroke="#555" stroke-width="0.7"/>
<line x1="651.63" y1="415.4" x2="651.63" y2="417.2" stroke="#555" stroke-width="0.7"/>
<line x1="653.15" y1="415.4" x2="653.15" y2="417.2" stroke="#555" stroke-width="0.7"/>
<line x1="654.47" y1="415.4" x2="654.47" y2="417.2" stroke="#555" stroke-width="0.7"/>
<line x1="655.64" y1="415.4" x2="655.64" y2="417.2" stroke="#555" stroke-width="0.7"/>
<line x1="663.52" y1="415.4" x2="663.52" y2="417.2" stroke="#555" stroke-width="0.7"/>
<line x1="667.52" y1="415.4" x2="667.52" y2="417.2" stroke="#555" stroke-width="0.7"/>
<line x1="670.36" y1="415.4" x2="670.36" y2="417.2" stroke="#555" stroke-width="0.7"/>
<line x1="672.56" y1="415.4" x2="672.56" y2="417.2" stroke="#555" stroke-width="0.7"/>
<line x1="674.36" y1="415.4" x2="674.36" y2="417.2" stroke="#555" stroke-width="0.7"/>
<line x1="675.88" y1="415.4" x2="675.88" y2="417.2" stroke="#555" stroke-width="0.7"/>
<line x1="677.2" y1="415.4" x2="677.2" y2="417.2" stroke="#555" stroke-width="0.7"/>
<line x1="678.36" y1="415.4" x2="678.36" y2="417.2" stroke="#555" stroke-width="0.7"/>
<line x1="588.5" y1="415.4" x2="588.5" y2="418.4" stroke="#555" stroke-width="0.8"/>
<text x="584.5" y="423.7" font-size="5.8" font-weight="normal" fill="#444" text-anchor="start" textLength="5.6" lengthAdjust="spacingAndGlyphs" >10</text>
<text x="590.3" y="421" font-size="4.2" font-weight="normal" fill="#444" text-anchor="start" >2</text>
<line x1="611.23" y1="415.4" x2="611.23" y2="418.4" stroke="#555" stroke-width="0.8"/>
<text x="607.23" y="423.7" font-size="5.8" font-weight="normal" fill="#444" text-anchor="start" textLength="5.6" lengthAdjust="spacingAndGlyphs" >10</text>
<text x="613.02" y="421" font-size="4.2" font-weight="normal" fill="#444" text-anchor="start" >3</text>
<line x1="633.95" y1="415.4" x2="633.95" y2="418.4" stroke="#555" stroke-width="0.8"/>
<text x="629.95" y="423.7" font-size="5.8" font-weight="normal" fill="#444" text-anchor="start" textLength="5.6" lengthAdjust="spacingAndGlyphs" >10</text>
<text x="635.75" y="421" font-size="4.2" font-weight="normal" fill="#444" text-anchor="start" >4</text>
<line x1="656.67" y1="415.4" x2="656.67" y2="418.4" stroke="#555" stroke-width="0.8"/>
<text x="652.67" y="423.7" font-size="5.8" font-weight="normal" fill="#444" text-anchor="start" textLength="5.6" lengthAdjust="spacingAndGlyphs" >10</text>
<text x="658.47" y="421" font-size="4.2" font-weight="normal" fill="#444" text-anchor="start" >5</text>
<line x1="679.4" y1="415.4" x2="679.4" y2="418.4" stroke="#555" stroke-width="0.8"/>
<text x="675.4" y="423.7" font-size="5.8" font-weight="normal" fill="#444" text-anchor="start" textLength="5.6" lengthAdjust="spacingAndGlyphs" >10</text>
<text x="681.2" y="421" font-size="4.2" font-weight="normal" fill="#444" text-anchor="start" >6</text>
<text x="633.95" y="429.9" font-size="5.6" font-weight="normal" fill="#444" text-anchor="middle" textLength="15.3" lengthAdjust="spacingAndGlyphs" >PC7-A</text>
<text x="628.8" y="323" font-size="5.6" font-weight="normal" fill="#333" text-anchor="middle" textLength="52.5" lengthAdjust="spacingAndGlyphs" >MDAR 1.6 DOX 2 : P2</text>
</svg></body></html>
